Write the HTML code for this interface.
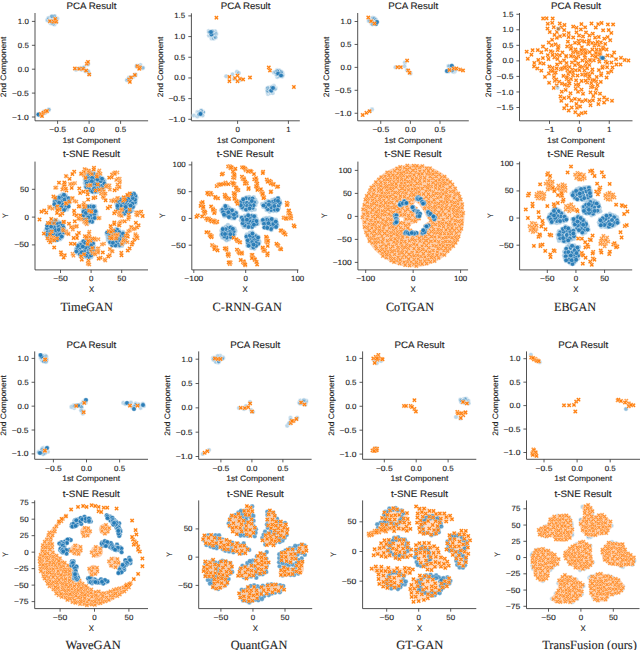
<!DOCTYPE html><html><head><meta charset="utf-8"><style>html,body{margin:0;padding:0;background:#fff}svg{display:block}</style></head><body>
<svg width="640" height="650" viewBox="0 0 640 650">
<defs>
<marker id="o" markerUnits="userSpaceOnUse" markerWidth="8" markerHeight="8" refX="0" refY="0" overflow="visible"><circle r="2.3" fill="#1f77b4" fill-opacity="0.9" stroke="#fff" stroke-opacity="0.75" stroke-width="0.5"/></marker>
<marker id="q" markerUnits="userSpaceOnUse" markerWidth="8" markerHeight="8" refX="0" refY="0" overflow="visible"><circle r="2.3" fill="#1f77b4" fill-opacity="0.7" stroke="#fff" stroke-opacity="0.6" stroke-width="0.5"/></marker>
<marker id="h" markerUnits="userSpaceOnUse" markerWidth="8" markerHeight="8" refX="0" refY="0" overflow="visible"><circle r="2.3" fill="#1f77b4" fill-opacity="0.35" stroke="#fff" stroke-opacity="0.5" stroke-width="0.5"/></marker>
<marker id="p" markerUnits="userSpaceOnUse" markerWidth="8" markerHeight="8" refX="0" refY="0" overflow="visible"><circle r="2.3" fill="#1f77b4" fill-opacity="0.3" stroke="#fff" stroke-width="0.5"/></marker>
<marker id="x" markerUnits="userSpaceOnUse" markerWidth="8" markerHeight="8" refX="0" refY="0" overflow="visible"><path d="M1.13 -2.26L2.26 -1.13L1.13 0L2.26 1.13L1.13 2.26L0 1.13L-1.13 2.26L-2.26 1.13L-1.13 0L-2.26 -1.13L-1.13 -2.26L0 -1.13Z" fill="#ff7f0e" stroke="#fff" stroke-opacity="0.85" stroke-width="0.35"/></marker>
<marker id="y" markerUnits="userSpaceOnUse" markerWidth="8" markerHeight="8" refX="0" refY="0" overflow="visible"><path d="M1.13 -2.26L2.26 -1.13L1.13 0L2.26 1.13L1.13 2.26L0 1.13L-1.13 2.26L-2.26 1.13L-1.13 0L-2.26 -1.13L-1.13 -2.26L0 -1.13Z" fill="#ff7f0e" fill-opacity="0.75" stroke="#fff" stroke-opacity="0.8" stroke-width="0.4"/></marker>
</defs><style>polyline{fill:none;stroke:none}.mo{marker:url(#o)}.mp{marker:url(#p)}.mh{marker:url(#h)}.mq{marker:url(#q)}.mx{marker:url(#x)}.my{marker:url(#y)}</style><defs>
<clipPath id="c0"><rect x="0" y="0" width="160" height="650"/></clipPath>
<clipPath id="c1"><rect x="152" y="0" width="168" height="650"/></clipPath>
<clipPath id="c2"><rect x="320" y="0" width="160" height="650"/></clipPath>
<clipPath id="c3"><rect x="480" y="0" width="160" height="650"/></clipPath>
<filter id="bl" x="-2%" y="-2%" width="104%" height="104%"><feGaussianBlur stdDeviation="0.35"/></filter>
</defs>
<rect width="640" height="650" fill="#fff"/>
<style>text{stroke:#1e1e1e;stroke-width:0.12px;text-rendering:geometricPrecision}</style>
<g clip-path="url(#c0)">
<path d="M35.0 13.0V120.8H148.1" fill="none" stroke="#333333" stroke-width="0.85"/>
<path d="M57.60 120.8v3.1M89.10 120.8v3.1M120.60 120.8v3.1M35.0 117.00h-3.1M35.0 93.10h-3.1M35.0 69.20h-3.1M35.0 45.30h-3.1M35.0 21.40h-3.1" stroke="#333333" stroke-width="0.8"/>
<text x="57.6" y="132.0" font-size="7.59" text-anchor="middle" font-family="Liberation Sans" fill="#1e1e1e" textLength="16.8" lengthAdjust="spacingAndGlyphs">−0.5</text>
<text x="89.1" y="132.0" font-size="7.59" text-anchor="middle" font-family="Liberation Sans" fill="#1e1e1e" textLength="11.0" lengthAdjust="spacingAndGlyphs">0.0</text>
<text x="120.6" y="132.0" font-size="7.59" text-anchor="middle" font-family="Liberation Sans" fill="#1e1e1e" textLength="11.0" lengthAdjust="spacingAndGlyphs">0.5</text>
<text x="28.8" y="119.5" font-size="7.59" text-anchor="end" font-family="Liberation Sans" fill="#1e1e1e" textLength="16.8" lengthAdjust="spacingAndGlyphs">−1.0</text>
<text x="28.8" y="95.6" font-size="7.59" text-anchor="end" font-family="Liberation Sans" fill="#1e1e1e" textLength="16.8" lengthAdjust="spacingAndGlyphs">−0.5</text>
<text x="28.8" y="71.7" font-size="7.59" text-anchor="end" font-family="Liberation Sans" fill="#1e1e1e" textLength="11.0" lengthAdjust="spacingAndGlyphs">0.0</text>
<text x="28.8" y="47.8" font-size="7.59" text-anchor="end" font-family="Liberation Sans" fill="#1e1e1e" textLength="11.0" lengthAdjust="spacingAndGlyphs">0.5</text>
<text x="28.8" y="23.9" font-size="7.59" text-anchor="end" font-family="Liberation Sans" fill="#1e1e1e" textLength="11.0" lengthAdjust="spacingAndGlyphs">1.0</text>
<text x="91.5" y="8.5" font-size="9.33" text-anchor="middle" font-family="Liberation Sans" fill="#1e1e1e" textLength="49.8" lengthAdjust="spacingAndGlyphs">PCA Result</text>
<text x="91.5" y="142.6" font-size="7.85" text-anchor="middle" font-family="Liberation Sans" fill="#1e1e1e" textLength="57.9" lengthAdjust="spacingAndGlyphs">1st Component</text>
<text transform="translate(6.2 66.9) rotate(-90)" font-size="7.85" text-anchor="middle" font-family="Liberation Sans" fill="#1e1e1e" textLength="60.6" lengthAdjust="spacingAndGlyphs">2nd Component</text>
<g filter="url(#bl)">
<polyline class="mp" points="50.9,17.4 54.8,16.7 53.4,19.3 47.7,20.6 47.4,19.9 52.1,23.4 48.5,18.0 54.5,24.5 53.9,19.6 57.3,18.6 50.7,23.3 49.2,21.2 54.7,19.4 53.6,16.6 55.2,19.8 50.8,21.3 52.4,18.7 56.5,22.3 49.9,21.2 53.3,23.9 55.8,18.6 52.0,22.8 51.5,16.5 54.5,16.0 52.0,16.2"/>
<polyline class="mx" points="50.0,21.2 53.8,21.7 56.2,21.7 55.2,18.9"/>
<polyline class="mp" points="76.0,69.8 80.4,68.0 81.5,69.8 79.0,68.7 82.6,68.4 87.8,64.5 88.1,64.1 84.2,67.1 83.6,68.0 86.7,71.0 85.5,71.3 89.2,73.9 88.3,71.2"/>
<polyline class="mx" points="74.9,68.5 79.2,68.8 83.0,68.8 86.8,63.8 88.0,61.9 86.1,70.6 89.2,74.4"/>
<polyline class="mp" points="142.4,68.2 140.4,65.0 137.4,66.8 136.6,66.5 138.9,66.4 136.8,65.7 140.0,66.9 143.0,67.7"/>
<polyline class="mx" points="137.4,66.2 139.9,67.5 139.2,68.8"/>
<polyline class="mp" points="135.7,74.7 130.0,78.4 133.3,76.8 128.7,79.9 127.1,80.2 127.0,80.0 135.2,74.9 128.3,79.7 129.0,77.5 130.7,77.7"/>
<polyline class="mx" points="129.2,79.4 131.1,77.5 134.9,75.0 129.9,81.9"/>
<polyline class="mp" points="39.0,115.2 46.5,111.9 47.0,111.1 44.9,113.0 48.8,109.9 40.6,114.4 44.1,111.6 41.9,115.5 48.9,109.6 46.2,111.0"/>
<polyline class="mo" points="38.5,114.5 38.5,114.5"/>
<polyline class="mx" points="41.0,114.0 43.4,112.7 45.5,111.5 42.0,116.0 47.0,111.0"/>
</g>
</g>
<g clip-path="url(#c1)">
<path d="M191.4 13.3V120.8H299.8" fill="none" stroke="#333333" stroke-width="0.85"/>
<path d="M237.60 120.8v3.1M288.40 120.8v3.1M191.4 119.30h-3.1M191.4 98.62h-3.1M191.4 77.94h-3.1M191.4 57.26h-3.1M191.4 36.58h-3.1M191.4 15.90h-3.1" stroke="#333333" stroke-width="0.8"/>
<text x="237.6" y="132.0" font-size="7.59" text-anchor="middle" font-family="Liberation Sans" fill="#1e1e1e" textLength="4.4" lengthAdjust="spacingAndGlyphs">0</text>
<text x="288.4" y="132.0" font-size="7.59" text-anchor="middle" font-family="Liberation Sans" fill="#1e1e1e" textLength="4.4" lengthAdjust="spacingAndGlyphs">1</text>
<text x="185.2" y="121.8" font-size="7.59" text-anchor="end" font-family="Liberation Sans" fill="#1e1e1e" textLength="16.8" lengthAdjust="spacingAndGlyphs">−1.0</text>
<text x="185.2" y="101.1" font-size="7.59" text-anchor="end" font-family="Liberation Sans" fill="#1e1e1e" textLength="16.8" lengthAdjust="spacingAndGlyphs">−0.5</text>
<text x="185.2" y="80.4" font-size="7.59" text-anchor="end" font-family="Liberation Sans" fill="#1e1e1e" textLength="11.0" lengthAdjust="spacingAndGlyphs">0.0</text>
<text x="185.2" y="59.8" font-size="7.59" text-anchor="end" font-family="Liberation Sans" fill="#1e1e1e" textLength="11.0" lengthAdjust="spacingAndGlyphs">0.5</text>
<text x="185.2" y="39.1" font-size="7.59" text-anchor="end" font-family="Liberation Sans" fill="#1e1e1e" textLength="11.0" lengthAdjust="spacingAndGlyphs">1.0</text>
<text x="185.2" y="18.4" font-size="7.59" text-anchor="end" font-family="Liberation Sans" fill="#1e1e1e" textLength="11.0" lengthAdjust="spacingAndGlyphs">1.5</text>
<text x="245.6" y="8.5" font-size="9.33" text-anchor="middle" font-family="Liberation Sans" fill="#1e1e1e" textLength="49.8" lengthAdjust="spacingAndGlyphs">PCA Result</text>
<text x="245.6" y="142.6" font-size="7.85" text-anchor="middle" font-family="Liberation Sans" fill="#1e1e1e" textLength="57.9" lengthAdjust="spacingAndGlyphs">1st Component</text>
<text transform="translate(162.6 67.0) rotate(-90)" font-size="7.85" text-anchor="middle" font-family="Liberation Sans" fill="#1e1e1e" textLength="60.6" lengthAdjust="spacingAndGlyphs">2nd Component</text>
<g filter="url(#bl)">
<polyline class="mp" points="212.2,33.2 209.8,32.3 213.9,38.6 211.5,38.4 210.6,32.0 209.3,31.8 209.0,35.6 211.8,35.9 213.6,38.2 214.8,36.8 211.8,31.6 214.9,33.0 211.0,33.6 208.7,31.1 215.1,31.3 213.6,33.2 212.5,31.2 213.5,34.7 216.3,33.9 215.7,37.4 209.1,32.3 209.9,32.2"/>
<polyline class="mo" points="211.4,34.5 211.0,32.0"/>
<polyline class="mp" points="199.4,112.2 197.4,112.1 202.9,111.6 198.7,114.7 203.0,112.0 203.3,112.4 199.4,114.0 193.9,115.5 201.4,110.9 199.2,115.5 199.2,112.7 199.3,114.3 201.1,110.6 199.1,112.3 197.3,116.5 199.2,114.3 202.6,115.5 198.7,114.9 199.1,114.1 200.9,113.0"/>
<polyline class="mo" points="200.5,113.9 200.5,113.9"/>
<polyline class="mx" points="216.4,17.7 293.9,87.0"/>
<polyline class="mp" points="226.2,76.2 232.5,74.4 236.9,71.9 238.8,73.1 234.0,79.0 240.0,80.0"/>
<polyline class="mx" points="229.4,76.9 229.4,81.2 235.0,78.1 237.5,75.6 237.5,81.2 240.0,78.8 243.1,79.4 250.0,77.5 268.8,67.5 270.0,70.6"/>
<polyline class="mp" points="278.9,73.8 282.2,76.6 276.1,73.4 279.0,70.8 277.1,70.1 279.4,76.2 280.1,75.6 283.0,74.7 277.2,77.0 282.4,72.7 277.8,73.7 277.7,71.2 276.3,74.6 273.9,72.5 279.1,70.4 276.6,74.0 279.7,71.0 281.7,73.2 275.2,72.0 277.1,70.7 282.3,75.7 281.4,71.8"/>
<polyline class="mo" points="278.1,73.5 281.0,75.5"/>
<polyline class="mp" points="267.9,94.0 268.4,87.7 275.6,88.1 274.1,87.4 269.8,91.4 273.8,85.8 267.8,92.5 266.9,89.1 267.5,90.6 270.4,92.9 269.1,91.3 267.4,91.0 270.0,87.6 272.8,93.0 270.4,90.4 273.5,87.2 271.9,91.2 274.9,89.3 271.8,88.5 267.6,88.0 272.0,86.9 271.5,87.5"/>
<polyline class="mo" points="271.2,90.6 273.0,88.0"/>
</g>
</g>
<g clip-path="url(#c2)">
<path d="M357.7 13.0V120.8H468.8" fill="none" stroke="#333333" stroke-width="0.85"/>
<path d="M380.75 120.8v3.1M410.38 120.8v3.1M440.00 120.8v3.1M357.7 113.25h-3.1M357.7 90.31h-3.1M357.7 67.38h-3.1M357.7 44.44h-3.1M357.7 21.50h-3.1" stroke="#333333" stroke-width="0.8"/>
<text x="380.8" y="132.0" font-size="7.59" text-anchor="middle" font-family="Liberation Sans" fill="#1e1e1e" textLength="16.8" lengthAdjust="spacingAndGlyphs">−0.5</text>
<text x="410.4" y="132.0" font-size="7.59" text-anchor="middle" font-family="Liberation Sans" fill="#1e1e1e" textLength="11.0" lengthAdjust="spacingAndGlyphs">0.0</text>
<text x="440.0" y="132.0" font-size="7.59" text-anchor="middle" font-family="Liberation Sans" fill="#1e1e1e" textLength="11.0" lengthAdjust="spacingAndGlyphs">0.5</text>
<text x="351.5" y="115.8" font-size="7.59" text-anchor="end" font-family="Liberation Sans" fill="#1e1e1e" textLength="16.8" lengthAdjust="spacingAndGlyphs">−1.0</text>
<text x="351.5" y="92.8" font-size="7.59" text-anchor="end" font-family="Liberation Sans" fill="#1e1e1e" textLength="16.8" lengthAdjust="spacingAndGlyphs">−0.5</text>
<text x="351.5" y="69.9" font-size="7.59" text-anchor="end" font-family="Liberation Sans" fill="#1e1e1e" textLength="11.0" lengthAdjust="spacingAndGlyphs">0.0</text>
<text x="351.5" y="46.9" font-size="7.59" text-anchor="end" font-family="Liberation Sans" fill="#1e1e1e" textLength="11.0" lengthAdjust="spacingAndGlyphs">0.5</text>
<text x="351.5" y="24.0" font-size="7.59" text-anchor="end" font-family="Liberation Sans" fill="#1e1e1e" textLength="11.0" lengthAdjust="spacingAndGlyphs">1.0</text>
<text x="413.2" y="8.5" font-size="9.33" text-anchor="middle" font-family="Liberation Sans" fill="#1e1e1e" textLength="49.8" lengthAdjust="spacingAndGlyphs">PCA Result</text>
<text x="413.2" y="142.6" font-size="7.85" text-anchor="middle" font-family="Liberation Sans" fill="#1e1e1e" textLength="57.9" lengthAdjust="spacingAndGlyphs">1st Component</text>
<text transform="translate(328.9 66.9) rotate(-90)" font-size="7.85" text-anchor="middle" font-family="Liberation Sans" fill="#1e1e1e" textLength="60.6" lengthAdjust="spacingAndGlyphs">2nd Component</text>
<g filter="url(#bl)">
<polyline class="mp" points="371.6,18.9 374.0,19.4 373.3,20.0 374.2,20.5 371.7,20.9 374.1,20.0 375.1,18.8 372.8,17.8 374.1,18.3 370.0,20.6 371.4,23.5 372.6,24.1 376.0,23.6 368.7,20.9 375.9,19.9 372.3,24.1 376.7,21.6 372.7,22.0"/>
<polyline class="mo" points="376.0,24.0 377.0,22.0"/>
<polyline class="mx" points="368.3,17.5 371.1,21.2 374.5,23.5"/>
<polyline class="mp" points="395.5,67.2 404.9,62.5 404.5,66.2 410.5,73.4 399.0,67.0 407.0,70.0"/>
<polyline class="mx" points="397.4,67.2 400.8,67.2 407.1,60.6 408.2,70.4 409.6,72.8"/>
<polyline class="mp" points="454.3,71.9 454.3,70.2 454.9,71.0 452.9,67.3 449.6,66.3 454.4,70.0 452.3,70.5 452.8,69.4 453.5,69.5 451.4,70.8 446.7,71.4 448.5,66.1 448.7,71.3 448.1,71.4 455.8,69.5 449.8,69.3 452.8,71.6 452.2,70.6"/>
<polyline class="mo" points="451.8,65.7 447.0,71.0"/>
<polyline class="mx" points="449.5,70.0 453.6,68.5 456.4,68.5 460.2,69.6 463.0,70.4"/>
<polyline class="mp" points="372.0,109.4 370.0,111.0"/>
<polyline class="mx" points="362.7,115.0 366.4,112.8 369.6,111.2"/>
</g>
</g>
<g clip-path="url(#c3)">
<path d="M519.5 13.0V120.8H632.5" fill="none" stroke="#333333" stroke-width="0.85"/>
<path d="M549.50 120.8v3.1M579.38 120.8v3.1M609.25 120.8v3.1M519.5 107.50h-3.1M519.5 91.96h-3.1M519.5 76.42h-3.1M519.5 60.88h-3.1M519.5 45.33h-3.1M519.5 29.79h-3.1M519.5 14.25h-3.1" stroke="#333333" stroke-width="0.8"/>
<text x="549.5" y="132.0" font-size="7.59" text-anchor="middle" font-family="Liberation Sans" fill="#1e1e1e" textLength="10.2" lengthAdjust="spacingAndGlyphs">−1</text>
<text x="579.4" y="132.0" font-size="7.59" text-anchor="middle" font-family="Liberation Sans" fill="#1e1e1e" textLength="4.4" lengthAdjust="spacingAndGlyphs">0</text>
<text x="609.2" y="132.0" font-size="7.59" text-anchor="middle" font-family="Liberation Sans" fill="#1e1e1e" textLength="4.4" lengthAdjust="spacingAndGlyphs">1</text>
<text x="513.4" y="110.0" font-size="7.59" text-anchor="end" font-family="Liberation Sans" fill="#1e1e1e" textLength="16.8" lengthAdjust="spacingAndGlyphs">−1.5</text>
<text x="513.4" y="94.5" font-size="7.59" text-anchor="end" font-family="Liberation Sans" fill="#1e1e1e" textLength="16.8" lengthAdjust="spacingAndGlyphs">−1.0</text>
<text x="513.4" y="78.9" font-size="7.59" text-anchor="end" font-family="Liberation Sans" fill="#1e1e1e" textLength="16.8" lengthAdjust="spacingAndGlyphs">−0.5</text>
<text x="513.4" y="63.4" font-size="7.59" text-anchor="end" font-family="Liberation Sans" fill="#1e1e1e" textLength="11.0" lengthAdjust="spacingAndGlyphs">0.0</text>
<text x="513.4" y="47.8" font-size="7.59" text-anchor="end" font-family="Liberation Sans" fill="#1e1e1e" textLength="11.0" lengthAdjust="spacingAndGlyphs">0.5</text>
<text x="513.4" y="32.3" font-size="7.59" text-anchor="end" font-family="Liberation Sans" fill="#1e1e1e" textLength="11.0" lengthAdjust="spacingAndGlyphs">1.0</text>
<text x="513.4" y="16.8" font-size="7.59" text-anchor="end" font-family="Liberation Sans" fill="#1e1e1e" textLength="11.0" lengthAdjust="spacingAndGlyphs">1.5</text>
<text x="576.0" y="8.5" font-size="9.33" text-anchor="middle" font-family="Liberation Sans" fill="#1e1e1e" textLength="49.8" lengthAdjust="spacingAndGlyphs">PCA Result</text>
<text x="576.0" y="142.6" font-size="7.85" text-anchor="middle" font-family="Liberation Sans" fill="#1e1e1e" textLength="57.9" lengthAdjust="spacingAndGlyphs">1st Component</text>
<text transform="translate(490.7 66.9) rotate(-90)" font-size="7.85" text-anchor="middle" font-family="Liberation Sans" fill="#1e1e1e" textLength="60.6" lengthAdjust="spacingAndGlyphs">2nd Component</text>
<g filter="url(#bl)">
<polyline class="mx" points="554.1,73.3 597.5,85.0 552.6,67.8 572.0,62.4 571.4,100.5 628.4,60.5 585.1,27.3 578.7,114.9 577.0,107.8 598.8,37.0 620.5,64.5 575.1,60.7 553.8,27.2 558.5,46.1 604.1,102.6 552.5,52.2 586.0,51.0 567.9,41.7 541.3,52.3 581.5,89.7 570.5,93.3 592.2,42.9 534.3,63.0 549.1,82.8 564.2,30.1 548.9,73.5 566.2,56.7 578.7,52.7 534.1,66.4 590.5,105.2 547.8,55.2 573.0,75.4 547.8,23.8 537.3,68.4 600.8,81.9 605.7,61.4 607.6,37.1 598.2,24.1 545.0,76.9 573.2,37.4 598.9,45.2 595.5,57.4 567.1,85.7 602.8,66.5 605.2,43.9 564.1,35.0 556.9,32.0 562.4,52.4 612.0,100.8 573.0,52.3 589.1,40.3 575.3,112.2 606.6,77.6 560.5,96.5 604.3,38.7 581.9,47.2 575.8,88.7 566.7,79.0 595.5,92.8 561.8,91.7 547.5,28.6 556.5,54.8 585.3,112.5 589.4,35.5 561.3,27.3 587.1,82.4 556.7,85.3 531.4,54.7 581.6,81.0 551.7,45.2 566.6,105.3 621.0,57.8 611.9,55.9 589.7,52.1 576.5,27.8 574.9,98.9 589.5,101.1 564.8,67.9 583.0,93.8 554.3,57.4 585.3,58.0 593.8,60.3 589.3,64.9 540.1,63.1 569.5,67.1 607.1,67.2 611.3,32.9 549.4,66.6 607.9,24.4 582.2,74.6 564.2,98.1 594.3,45.8 559.8,23.5 560.0,36.2 585.4,75.6 573.2,26.6 607.6,55.4 592.2,72.7 559.2,81.7 546.6,18.3 568.8,97.2 578.6,40.7 556.8,37.8 616.0,59.2 601.2,73.6 554.5,34.9 591.0,87.3 552.2,22.8 543.0,46.5 548.8,42.5 600.2,51.7 576.4,103.9 606.6,49.5 598.9,70.1 575.0,65.1 575.4,49.5 559.8,55.3 564.2,108.2 592.4,49.6 603.1,30.3 571.7,107.6 553.8,87.9 556.6,68.4 601.6,23.0 568.7,33.2 591.5,23.5 576.1,80.3 568.2,74.0 603.9,57.5 598.4,104.1 596.1,81.3 570.8,45.8 571.0,79.1 593.3,96.0 580.9,29.4 584.4,70.4 578.4,56.3 579.0,35.6 607.0,99.4 583.0,36.4 611.4,62.6 600.8,42.4 591.4,83.2 608.7,30.1 575.8,70.3 614.1,52.5 582.1,101.3 555.5,44.3 588.5,78.6 561.3,100.8 608.1,72.7 567.2,46.4 563.4,75.9 573.3,56.5 599.4,61.7 592.9,100.3 616.4,64.5 526.7,51.7 595.8,27.6 592.2,80.0 552.7,18.5 596.7,77.0 585.7,100.1 604.1,97.5 578.4,63.5 586.0,32.4 564.5,25.0 564.0,60.4 590.4,60.9 543.6,63.6 552.1,39.8 568.7,110.5 599.3,99.7 565.7,89.9 549.8,32.1 579.4,70.0 557.5,59.0 560.8,69.3 527.8,58.8 550.6,70.6 572.2,69.7 588.3,73.6 592.8,33.7 575.0,42.8 557.7,50.1 578.0,91.8 585.6,65.8 582.2,53.5 542.9,58.1 577.9,86.0 612.5,67.4 576.5,32.3 582.0,40.7 592.4,69.4 554.0,77.1 558.2,28.8 537.8,50.1 554.8,80.9 548.5,59.0 596.6,49.7 610.2,40.2 595.1,37.7 611.3,71.2 613.1,24.4 543.1,18.5 541.3,70.7 603.1,47.3 538.3,59.9 588.2,44.1 581.4,24.1 577.5,75.6 600.0,93.7 597.0,53.1 560.4,62.5 546.3,49.7 581.7,113.2 580.1,106.5 567.4,70.2 592.3,55.4 568.6,37.0 557.1,64.4 532.6,50.2 600.4,55.1 590.5,92.3 579.1,99.8 586.4,62.0 566.5,63.1 596.3,88.8 582.2,67.2 624.7,60.0 568.6,81.0 575.8,84.8 595.6,43.8 555.7,72.5 568.1,85.3 578.9,43.4 584.7,50.1 562.0,83.6 580.0,66.7 564.0,68.0 566.1,56.0 600.4,49.7 599.6,54.3 566.9,77.3 571.2,48.2 569.5,83.4 577.6,52.7 589.9,60.0 594.1,80.2 562.1,68.4 575.8,51.3 582.4,60.4 585.8,74.3 552.6,70.8 595.8,53.1 597.4,42.0 572.7,72.3 550.8,51.2 583.4,50.2 595.9,56.6 603.2,48.9 578.4,84.3 566.3,66.2 584.7,55.6 584.3,41.6 588.6,41.7 569.9,71.9 558.1,47.8 576.5,57.8 601.1,75.2 564.8,67.3 570.9,48.9 602.4,67.8 607.1,62.9 585.6,52.9 556.2,79.5 585.6,80.7 599.2,59.5 564.8,84.7 592.7,86.7 589.4,76.2 552.6,54.9 581.2,50.1 587.1,68.2 571.0,56.0"/>
<polyline class="mo" points="601.6,57.8 602.8,58.0"/>
<polyline class="mp" points="558.4,28.8 557.5,87.8"/>
</g>
</g>
<g clip-path="url(#c0)">
<path d="M35.0 161.6V269.9H148.0" fill="none" stroke="#333333" stroke-width="0.85"/>
<path d="M60.50 269.9v3.1M91.10 269.9v3.1M121.70 269.9v3.1M35.0 244.90h-3.1M35.0 217.10h-3.1M35.0 189.30h-3.1" stroke="#333333" stroke-width="0.8"/>
<text x="60.5" y="281.1" font-size="7.59" text-anchor="middle" font-family="Liberation Sans" fill="#1e1e1e" textLength="14.6" lengthAdjust="spacingAndGlyphs">−50</text>
<text x="91.1" y="281.1" font-size="7.59" text-anchor="middle" font-family="Liberation Sans" fill="#1e1e1e" textLength="4.4" lengthAdjust="spacingAndGlyphs">0</text>
<text x="121.7" y="281.1" font-size="7.59" text-anchor="middle" font-family="Liberation Sans" fill="#1e1e1e" textLength="8.8" lengthAdjust="spacingAndGlyphs">50</text>
<text x="28.8" y="247.4" font-size="7.59" text-anchor="end" font-family="Liberation Sans" fill="#1e1e1e" textLength="14.6" lengthAdjust="spacingAndGlyphs">−50</text>
<text x="28.8" y="219.6" font-size="7.59" text-anchor="end" font-family="Liberation Sans" fill="#1e1e1e" textLength="4.4" lengthAdjust="spacingAndGlyphs">0</text>
<text x="28.8" y="191.8" font-size="7.59" text-anchor="end" font-family="Liberation Sans" fill="#1e1e1e" textLength="8.8" lengthAdjust="spacingAndGlyphs">50</text>
<text x="91.5" y="157.4" font-size="9.33" text-anchor="middle" font-family="Liberation Sans" fill="#1e1e1e" textLength="56.9" lengthAdjust="spacingAndGlyphs">t-SNE Result</text>
<text x="91.5" y="291.6" font-size="7.85" text-anchor="middle" font-family="Liberation Sans" fill="#1e1e1e" textLength="5.2" lengthAdjust="spacingAndGlyphs">X</text>
<text transform="translate(8.4 215.8) rotate(-90)" font-size="7.85" text-anchor="middle" font-family="Liberation Sans" fill="#1e1e1e" textLength="4.6" lengthAdjust="spacingAndGlyphs">Y</text>
<g filter="url(#bl)">
<polyline class="mh" points="104.5,180.4 102.3,189.8 100.2,176.9 90.5,191.4 85.4,186.6 96.7,174.6 94.0,192.4 87.2,189.0 94.3,173.4 91.3,172.9 84.8,182.9 87.2,174.4 84.8,179.7 97.6,191.9 105.1,184.7 103.9,187.5 85.7,176.9 102.7,178.6 100.1,191.2 88.6,172.4"/>
<polyline class="mo" points="103.2,181.3 93.3,186.3 98.8,177.1 99.7,185.9 86.3,186.9 89.9,179.4 94.6,176.3 86.3,181.0 90.7,184.7 96.0,186.9 89.5,176.2 94.7,179.6 102.4,185.6 90.1,190.0 101.4,190.1 97.9,181.9 92.4,191.6 93.2,173.7 100.6,181.3 86.8,177.3 95.6,191.5 97.8,189.3 88.9,182.4 90.8,172.8 102.9,188.1 92.2,177.7 93.8,183.2 86.7,183.6 102.0,178.7 88.9,187.1 94.0,188.9 97.5,179.3 96.9,175.1 91.8,181.2 96.4,184.3 104.4,183.6 88.4,173.8"/>
<polyline class="mh" points="69.2,203.3 54.3,203.7 56.9,198.1 54.6,200.4 68.7,206.3 69.3,198.7 56.8,208.1 67.1,209.4 62.4,194.4 63.6,210.6 65.9,195.4 60.1,195.8 60.2,209.6 54.8,206.2"/>
<polyline class="mo" points="54.9,201.4 56.9,205.1 60.4,200.0 62.3,196.8 61.8,202.3 66.3,201.8 65.6,208.1 59.5,205.3 62.7,204.9 58.8,208.5 57.5,200.9 66.1,205.4 68.0,203.7 61.2,207.4 64.1,210.1 65.5,196.8 64.4,199.6 68.6,198.2 58.9,197.6 55.7,198.9 69.1,201.1 54.4,204.2 68.6,206.5 64.0,194.7 56.5,207.6 59.2,202.7"/>
<polyline class="mh" points="96.5,215.5 96.4,211.9 82.8,216.4 94.9,206.4 91.5,205.6 83.1,212.7 92.6,222.1 84.6,220.1 95.1,209.6 85.2,207.6 88.6,222.8 94.7,218.5 88.2,206.0 82.7,209.5 86.0,222.6"/>
<polyline class="mo" points="92.3,218.6 86.1,220.6 88.1,212.0 90.6,215.1 86.8,215.3 92.0,221.8 89.7,208.9 91.3,211.6 89.3,221.1 84.2,218.8 94.3,214.2 87.1,209.2 93.0,209.0 90.6,206.5 83.1,215.6 88.3,217.5 84.3,209.1 95.4,211.2 83.5,211.7 87.6,206.6 93.7,206.5 94.8,217.9 85.8,212.9"/>
<polyline class="mh" points="135.5,203.4 116.3,203.6 121.5,198.8 128.4,195.6 128.8,212.3 117.3,206.5 133.4,193.3 131.0,194.8 132.4,210.5 119.0,210.0 124.1,198.3 124.9,214.2 117.2,200.6 121.7,211.6 136.5,197.7 133.7,206.2 135.9,200.8 135.5,195.4"/>
<polyline class="mo" points="130.2,197.1 120.4,202.3 120.8,208.2 135.4,196.1 130.7,208.4 128.3,204.6 132.9,206.9 132.6,200.9 127.2,209.0 123.6,205.6 130.0,200.7 134.9,202.1 123.9,209.6 125.1,203.3 123.6,199.6 134.0,193.9 124.4,213.6 120.5,205.5 135.0,199.6 118.0,203.4 126.9,211.7 130.3,211.4 125.6,197.5 132.3,203.7 125.7,206.9 128.1,198.5 122.1,211.7 132.7,198.0 126.5,200.8 117.8,208.4 130.6,205.7 117.9,200.9 131.5,194.8 120.8,199.8 122.9,202.0 117.4,205.9"/>
<polyline class="mh" points="45.7,230.2 63.1,234.5 50.8,222.4 60.3,239.3 47.0,225.6 46.3,234.8 64.7,230.0 58.0,221.5 55.1,240.2 54.4,220.4 52.4,240.6 62.9,226.0 60.8,222.7 50.4,239.0 62.1,237.2 48.6,236.9 48.2,223.3 57.8,239.8"/>
<polyline class="mo" points="50.3,224.2 49.8,228.9 54.5,225.0 47.9,231.8 61.1,232.1 55.3,237.8 53.2,239.9 60.0,223.5 54.2,233.9 57.4,232.0 58.3,226.5 52.7,230.0 59.7,238.1 46.9,228.1 54.5,228.0 57.3,235.3 53.1,222.5 60.0,234.6 60.9,228.4 62.6,224.9 49.6,236.7 56.8,223.1 64.0,232.5 50.5,231.5 63.3,229.9 47.2,225.5 52.0,237.4 61.8,236.5 51.2,226.5 56.9,239.9 46.9,234.8 49.4,233.9 55.8,230.2 58.7,229.8 63.5,227.4 55.3,220.7 51.8,234.8"/>
<polyline class="mh" points="91.4,240.3 84.8,256.7 94.3,250.0 77.2,245.5 87.2,257.5 93.8,245.8 76.0,249.0 86.2,238.7 82.4,241.7 91.2,257.2 80.2,255.9 80.0,243.2 77.7,253.4 93.3,242.4 93.1,252.2 75.9,251.6 88.9,239.3 92.2,254.7"/>
<polyline class="mo" points="92.1,240.9 91.6,252.1 87.7,249.2 79.4,251.5 84.3,250.9 88.0,253.3 86.3,240.0 87.6,243.7 83.0,254.4 88.6,246.7 77.5,248.6 80.6,247.8 82.9,244.0 79.9,254.1 88.9,256.9 85.3,247.6 93.0,247.7 76.3,251.5 80.5,244.9 93.0,243.5 91.0,255.5 86.0,255.6 90.5,249.4 83.4,241.2 89.5,241.8 93.7,250.6 91.0,245.4 77.8,245.9 85.2,242.9 82.8,246.6 81.8,252.2"/>
<polyline class="mh" points="123.0,232.1 107.9,239.9 124.8,236.8 106.6,233.9 112.5,245.3 119.0,230.3 125.2,239.4 109.9,231.3 110.1,243.4 116.3,245.9 119.3,246.2 113.2,230.0 123.9,242.7 116.2,228.9 107.6,236.9 122.0,245.7"/>
<polyline class="mo" points="112.6,240.1 119.7,245.1 124.4,239.3 117.3,229.9 117.1,243.2 120.3,237.5 113.0,235.2 112.2,245.2 109.5,233.2 109.6,238.5 116.2,240.8 119.9,240.2 120.4,234.8 114.8,237.5 119.2,232.2 114.9,231.4 124.0,235.9 109.5,235.8 124.0,242.1 110.1,242.2 107.1,232.5 115.4,245.5 117.3,234.5 121.8,243.2 110.9,231.1 112.9,242.8 123.0,233.5 117.5,238.6 112.0,237.6"/>
<polyline class="mx" points="136.8,236.1 137.5,238.0 135.9,222.8 138.6,225.3 101.2,193.6 65.6,203.5 53.4,196.4 141.1,211.7 139.3,213.6 88.6,260.8 128.4,195.3 110.0,249.1 47.4,238.3 48.9,240.3 125.7,235.9 127.8,236.7 69.6,178.8 51.8,237.6 53.4,237.6 127.2,233.6 85.5,206.0 84.2,207.0 47.9,223.0 49.8,223.0 57.0,238.4 114.3,222.4 114.2,224.1 64.8,255.2 63.6,257.6 84.7,169.2 83.6,173.3 121.3,252.8 121.5,255.3 71.7,187.9 74.3,214.0 100.6,257.7 98.7,258.7 90.5,240.7 95.3,197.3 93.5,198.0 78.9,232.9 113.7,238.5 110.8,238.0 118.8,224.3 63.5,185.8 62.4,189.4 60.9,252.3 61.3,254.6 97.7,184.5 66.2,203.2 94.0,167.8 93.7,169.6 99.6,189.8 46.2,212.5 69.0,223.7 71.1,227.1 80.1,193.0 51.8,238.8 121.8,209.3 120.0,212.3 62.3,213.6 60.3,215.0 110.6,226.1 111.0,228.9 89.1,210.7 91.3,211.8 77.0,235.1 76.9,238.0 74.2,171.7 72.4,174.1 95.5,190.5 102.8,252.4 131.8,244.6 129.6,248.4 127.8,250.6 39.5,219.5 69.7,201.7 134.3,239.6 132.7,242.7 137.0,227.3 74.8,221.3 74.6,243.9 70.9,243.7 89.5,236.8 86.5,238.0 128.7,214.6 129.2,217.1 123.2,200.7 108.8,231.2 76.3,226.4 129.7,209.8 57.0,213.0 129.8,193.4 127.3,195.0 87.0,191.3 87.7,194.3 124.7,221.3 55.1,197.8 97.6,174.8 96.9,176.5 54.2,247.4 51.8,231.6 50.2,234.3 123.7,197.3 124.8,199.4 44.2,210.4 41.4,211.7 88.1,199.5 64.2,222.0 64.8,184.0 64.4,186.2 112.1,236.1 110.1,237.3 142.7,216.0 79.7,206.1 78.8,206.5 79.3,188.4 66.4,190.5 51.7,239.3 54.2,240.3 86.1,169.9 88.6,171.0 111.6,238.3 138.0,212.4 76.5,215.3 80.2,215.4 117.7,234.3 115.3,235.0 92.3,248.1 113.0,230.6 111.1,231.9 64.3,182.4 81.8,259.7 50.3,242.2 74.1,210.8 73.6,238.0 83.4,191.7 109.8,255.1 108.2,256.5 57.4,206.4 58.3,209.2 51.2,219.0 112.1,174.6 111.7,177.3 63.5,221.9 110.0,206.6 107.8,208.1 116.9,188.8 114.6,190.2 115.8,211.5 114.2,213.2 59.0,182.7 59.6,209.2 57.4,210.1 109.2,177.7 104.0,197.8 105.6,200.3 84.1,254.3 81.1,256.3 88.2,241.0 87.5,243.9 43.9,233.6 84.9,236.2 86.5,236.8 84.1,175.4 85.5,177.9"/>
<polyline class="my" points="118.0,197.9 117.2,198.2 114.4,199.6 102.6,192.8 103.6,195.0 102.8,196.7 84.8,172.3 83.8,172.3 82.2,174.1 81.0,174.0 117.9,186.8 118.9,186.7 119.6,187.1 119.7,178.8 117.9,178.7 116.2,179.9 80.7,219.4 81.8,219.3 79.3,218.8 78.3,218.6 117.0,235.1 116.3,237.1 116.2,238.4 84.1,221.8 85.4,222.8 86.8,224.2 120.9,210.4 119.7,212.3 119.4,213.2 56.4,187.5 55.2,187.8 128.6,217.3 128.2,219.2 66.3,231.3 66.3,233.0 68.0,233.6 68.6,234.1 119.0,214.5 120.1,215.3 121.7,215.9 117.4,172.4 115.3,173.0 113.7,173.2 108.4,185.6 109.5,185.5 108.6,187.0 109.9,189.5 98.5,248.3 97.7,248.7 96.2,251.0 66.5,176.4 65.9,176.0 55.9,219.8 54.1,223.2 111.2,200.7 113.3,200.5 113.5,201.2 116.0,201.0 75.0,183.1 73.3,183.4 72.1,183.9 70.0,184.0 49.2,206.8 49.3,208.1 50.2,207.2 52.6,208.7 87.8,185.4 89.5,185.4 90.5,185.1 115.1,172.3 114.8,174.0 71.9,198.2 72.8,198.1 128.3,231.2 129.9,230.5 111.5,250.9 112.6,251.3 131.0,227.0 131.6,227.2 133.3,229.1 134.8,228.7 123.6,239.0 123.5,241.9 122.4,242.2 122.0,244.1 98.4,239.2 95.8,239.7 94.9,239.4 63.4,188.7 65.3,189.0 65.9,188.6 88.2,262.6 87.8,263.8 89.3,264.5 74.3,200.9 76.3,201.7 62.8,229.1 63.3,230.6 102.8,189.1 104.0,191.2 104.2,193.7 105.5,193.7 135.4,234.1 135.4,235.2 136.6,236.9 83.9,171.9 81.7,173.4 81.2,173.7 72.5,253.8 73.5,255.7 88.9,170.7 89.1,172.3 90.5,173.5 91.9,174.2 97.8,250.4 98.1,251.4 98.0,252.8 89.4,231.7 88.9,233.4 106.7,185.5 106.0,186.7 86.1,219.4 86.7,221.5 99.6,217.9 98.5,218.3 91.1,251.1 92.5,253.2 94.5,253.1 95.2,254.4 76.9,226.1 74.9,226.5 72.9,227.7 72.8,229.5 136.3,212.6 136.3,214.5 137.4,215.3 122.2,221.2 120.5,222.1 104.6,259.3 105.3,260.6 119.9,181.7 119.5,182.7 117.5,184.5 119.7,223.1 119.5,225.3 119.1,225.4 94.5,238.3 92.5,238.5 84.1,202.9 83.4,204.8 123.6,240.3 125.8,240.7 127.6,242.2 99.4,170.5 98.7,172.1 100.5,173.8 104.0,243.7 102.0,244.4"/>
</g>
</g>
<g clip-path="url(#c1)">
<path d="M191.8 161.6V269.9H298.4" fill="none" stroke="#333333" stroke-width="0.85"/>
<path d="M193.80 269.9v3.1M245.70 269.9v3.1M297.60 269.9v3.1M191.8 245.20h-3.1M191.8 218.43h-3.1M191.8 191.67h-3.1M191.8 164.90h-3.1" stroke="#333333" stroke-width="0.8"/>
<text x="193.8" y="281.1" font-size="7.59" text-anchor="middle" font-family="Liberation Sans" fill="#1e1e1e" textLength="19.0" lengthAdjust="spacingAndGlyphs">−100</text>
<text x="245.7" y="281.1" font-size="7.59" text-anchor="middle" font-family="Liberation Sans" fill="#1e1e1e" textLength="4.4" lengthAdjust="spacingAndGlyphs">0</text>
<text x="297.6" y="281.1" font-size="7.59" text-anchor="middle" font-family="Liberation Sans" fill="#1e1e1e" textLength="13.2" lengthAdjust="spacingAndGlyphs">100</text>
<text x="185.7" y="247.7" font-size="7.59" text-anchor="end" font-family="Liberation Sans" fill="#1e1e1e" textLength="14.6" lengthAdjust="spacingAndGlyphs">−50</text>
<text x="185.7" y="220.9" font-size="7.59" text-anchor="end" font-family="Liberation Sans" fill="#1e1e1e" textLength="4.4" lengthAdjust="spacingAndGlyphs">0</text>
<text x="185.7" y="194.2" font-size="7.59" text-anchor="end" font-family="Liberation Sans" fill="#1e1e1e" textLength="8.8" lengthAdjust="spacingAndGlyphs">50</text>
<text x="185.7" y="167.4" font-size="7.59" text-anchor="end" font-family="Liberation Sans" fill="#1e1e1e" textLength="13.2" lengthAdjust="spacingAndGlyphs">100</text>
<text x="245.1" y="157.4" font-size="9.33" text-anchor="middle" font-family="Liberation Sans" fill="#1e1e1e" textLength="56.9" lengthAdjust="spacingAndGlyphs">t-SNE Result</text>
<text x="245.1" y="291.6" font-size="7.85" text-anchor="middle" font-family="Liberation Sans" fill="#1e1e1e" textLength="5.2" lengthAdjust="spacingAndGlyphs">X</text>
<text transform="translate(165.2 215.8) rotate(-90)" font-size="7.85" text-anchor="middle" font-family="Liberation Sans" fill="#1e1e1e" textLength="4.6" lengthAdjust="spacingAndGlyphs">Y</text>
<g filter="url(#bl)">
<polyline class="mh" points="234.1,210.3 237.5,215.6 224.4,216.2 229.2,217.3 234.2,218.4 223.2,208.2 224.7,205.9 222.6,212.8 231.5,209.6 236.5,212.5 229.2,208.1 227.4,206.4 221.2,210.2 231.7,218.2"/>
<polyline class="mo" points="225.9,212.8 231.6,216.0 236.2,216.0 229.4,214.6 226.5,215.3 222.5,209.9 231.9,213.1 229.2,209.8 226.0,208.6 235.9,213.1 232.0,210.3 223.1,212.3 234.3,217.8 233.9,214.7 228.9,217.1 225.4,206.1 228.4,212.2 224.0,214.7"/>
<polyline class="mh" points="247.9,210.6 251.7,210.1 255.4,205.0 246.6,197.4 240.7,201.1 239.7,205.1 249.3,197.0 241.0,207.8 254.7,209.5 253.7,197.3 255.3,199.7 243.3,209.5 243.1,198.7 256.4,202.3"/>
<polyline class="mo" points="244.2,205.1 254.0,202.3 246.8,202.6 246.0,198.3 247.3,205.9 252.7,207.8 242.2,207.4 249.8,198.9 246.0,209.6 250.2,203.2 253.6,205.2 252.5,198.5 242.8,201.9 250.3,206.1 240.2,202.4 249.6,208.5 240.8,205.2 243.2,199.4 251.8,201.0"/>
<polyline class="mh" points="278.8,208.1 275.0,199.0 280.3,203.6 269.5,211.6 276.4,210.9 272.2,200.0 262.2,204.0 267.9,201.0 278.2,198.0 265.6,202.3 263.4,207.0 279.7,200.7 273.3,210.9 266.6,209.9"/>
<polyline class="mo" points="271.7,204.4 271.1,210.0 272.9,201.7 269.0,202.1 275.1,202.8 265.8,204.2 276.5,207.2 278.7,205.4 278.0,198.4 275.5,200.3 267.7,209.2 271.3,207.2 265.6,206.7 268.8,204.8 279.7,202.8 274.9,209.7 263.4,205.5 274.3,206.0 277.7,209.8 278.0,200.9"/>
<polyline class="mh" points="251.8,227.6 257.8,221.2 243.8,226.9 241.0,220.3 248.2,214.5 254.7,225.8 255.4,215.9 256.5,219.0 242.5,224.7 244.9,215.7 246.8,227.5 241.5,217.1 257.7,223.9 252.3,215.4"/>
<polyline class="mo" points="256.5,223.8 250.3,224.7 251.7,219.5 245.6,221.9 248.3,223.0 254.4,219.7 252.8,222.4 246.1,217.1 244.9,225.5 241.7,217.7 251.4,216.1 242.6,223.2 249.4,220.7 254.2,216.3 252.1,226.9 248.9,217.8 256.5,221.1 243.0,219.9 248.5,227.0 253.9,224.7 246.9,219.7 248.2,215.3"/>
<polyline class="mh" points="221.5,230.7 224.7,238.6 232.4,237.1 234.5,228.5 227.9,225.1 235.4,231.0 234.4,234.2 223.2,228.0 222.4,237.4 229.0,239.2 231.2,226.7 221.2,234.9 226.6,240.3 225.9,226.8"/>
<polyline class="mo" points="226.8,232.3 227.5,235.0 226.8,237.6 233.6,231.5 230.1,230.6 227.7,228.2 224.3,236.4 225.4,229.3 233.1,235.0 222.9,231.6 230.9,237.0 230.4,227.5 230.4,234.1 222.4,234.1 222.7,229.1 232.8,228.8 225.0,234.0"/>
<polyline class="mh" points="266.4,228.0 272.6,219.0 275.9,227.5 269.4,217.7 276.9,222.6 277.4,225.4 263.8,218.7 262.4,223.1 275.9,219.9 271.4,229.9 263.9,227.2 266.3,218.1 268.8,228.8 262.0,220.6"/>
<polyline class="mo" points="266.1,222.3 272.7,221.5 269.6,226.8 276.4,224.4 272.9,226.8 267.1,219.6 266.2,225.7 270.7,224.3 262.9,220.0 269.4,220.4 264.0,223.8 273.4,224.0 275.8,221.6 271.1,229.1 268.4,223.2 264.4,227.5 267.3,227.9 271.7,219.0 276.1,226.9"/>
<polyline class="mh" points="252.4,232.4 254.4,248.6 251.3,248.0 255.3,234.7 246.6,238.6 258.4,239.5 249.9,232.8 258.3,236.8 246.8,234.5 247.4,245.5 258.3,244.4 247.2,242.0 256.3,246.2 259.4,241.9"/>
<polyline class="mo" points="251.0,245.3 255.8,236.4 253.4,247.4 250.3,238.8 246.4,236.6 254.1,239.4 252.4,236.4 258.3,243.8 257.2,239.8 255.9,242.9 251.9,242.1 249.9,235.6 248.0,242.9 252.5,233.5 256.0,245.8 247.6,240.3 253.6,244.6 248.5,245.8 258.1,237.5"/>
<polyline class="mx" points="228.2,166.6 230.6,167.1 229.8,166.2 231.8,167.6 234.1,169.2 231.6,167.5 230.5,168.2 230.6,166.9 235.4,168.8 231.2,167.6 222.9,173.6 221.8,174.4 233.9,173.8 234.4,177.9 233.1,177.4 233.0,171.7 234.6,175.9 234.4,174.7 242.1,167.3 250.6,171.3 251.6,171.7 245.8,170.2 245.6,169.4 245.1,168.4 248.4,171.4 243.6,167.5 249.9,170.8 254.0,174.1 247.9,171.2 250.7,171.2 263.1,171.7 262.8,173.1 225.5,182.6 220.3,184.1 224.0,184.2 216.7,186.1 225.6,183.9 218.5,184.6 223.4,183.9 228.4,184.1 219.4,184.7 220.8,184.4 234.6,184.0 236.5,188.1 237.0,190.6 238.4,190.1 237.1,189.4 233.9,185.2 236.0,187.4 232.2,182.4 233.8,183.8 233.1,183.3 245.2,182.9 243.9,179.1 246.5,183.5 242.6,179.1 243.8,178.2 246.8,183.2 248.4,189.1 243.1,178.6 244.9,183.7 242.0,176.7 243.7,179.1 244.1,179.3 248.7,188.1 245.2,181.6 256.5,185.6 254.3,179.3 256.0,186.3 256.6,180.1 256.2,181.2 257.7,188.0 257.3,183.8 256.6,186.9 256.0,178.1 257.4,189.9 270.8,182.9 272.6,183.9 266.8,179.6 273.7,184.0 270.9,181.7 270.9,183.2 276.9,186.9 273.3,184.7 270.8,183.5 269.6,180.8 267.7,181.8 278.0,186.6 215.3,197.3 211.7,194.6 208.8,192.7 215.8,198.0 209.6,194.1 210.8,193.0 218.0,198.3 208.6,194.4 215.3,197.0 207.2,193.0 224.6,194.7 225.4,195.4 226.3,197.4 228.3,198.8 229.1,198.8 227.0,198.7 226.4,197.6 225.0,196.7 237.5,202.1 236.3,200.7 234.8,193.7 234.3,193.7 234.0,195.8 237.5,203.8 235.1,193.6 234.9,197.7 236.5,201.4 233.7,193.1 234.6,194.2 234.5,198.8 261.6,192.5 262.7,195.0 261.9,191.9 262.7,194.1 264.2,197.3 261.5,191.7 263.4,198.1 260.9,189.2 262.9,193.3 262.6,194.0 271.2,191.4 270.7,192.0 205.4,212.7 203.0,207.7 202.2,203.4 203.4,210.4 202.8,207.8 204.0,213.9 202.7,204.4 201.2,203.2 200.6,205.9 203.4,206.8 204.7,211.6 202.7,202.1 213.1,210.4 214.5,212.0 212.9,208.4 214.9,210.9 211.1,206.4 214.2,213.0 213.2,209.5 213.2,209.7 215.9,221.7 211.1,220.4 216.2,222.2 213.4,220.6 208.9,218.6 202.2,216.4 217.2,221.8 207.7,220.1 197.8,215.3 196.4,216.8 215.1,222.5 206.2,218.5 211.5,221.5 207.5,218.8 214.7,220.8 213.9,220.8 210.3,219.9 213.8,221.4 291.1,218.4 288.3,213.0 286.8,202.7 287.7,203.8 290.9,218.0 287.0,204.7 288.5,211.0 289.3,217.5 291.0,216.1 288.8,210.7 290.1,214.0 289.8,213.5 287.0,205.1 289.0,210.6 283.6,217.7 285.2,217.7 285.3,217.7 286.6,218.8 285.6,218.4 286.0,218.3 293.7,225.3 294.6,226.6 211.0,235.6 209.7,234.8 211.9,236.2 208.5,232.3 211.4,237.2 206.4,232.2 210.0,235.0 210.7,236.3 282.9,231.5 280.5,230.5 285.6,234.5 283.3,232.4 281.2,230.7 283.9,232.7 281.2,230.4 284.2,233.0 267.7,245.9 266.4,241.8 267.4,242.6 266.3,240.9 266.5,237.3 267.2,238.3 266.4,240.8 267.3,240.9 266.1,236.8 268.1,240.9 267.8,253.5 267.3,255.2 262.7,248.3 267.4,253.5 263.4,250.7 265.0,251.0 264.0,249.9 262.8,247.6 279.9,248.8 280.4,248.5 278.4,245.8 277.7,244.9 281.1,249.3 276.4,243.8 215.4,248.2 212.1,245.1 216.2,247.5 213.7,246.3 214.8,247.2 214.6,247.2 214.4,249.1 217.6,250.4 226.3,248.1 228.0,253.5 226.2,248.5 228.5,255.9 226.4,249.7 228.9,254.3 227.7,254.7 224.8,248.4 240.2,242.3 237.5,241.1 237.1,240.7 233.6,237.8 237.1,240.4 239.8,242.2 238.1,241.0 236.3,239.2 238.3,251.0 242.1,253.6 237.0,249.7 238.6,252.0 240.0,253.4 239.5,253.0 241.9,252.6 241.5,253.2 229.6,262.6 229.9,264.1 229.7,262.3 230.6,262.5 229.7,262.9 228.7,262.4 243.2,262.1 243.0,262.2 243.4,261.4 245.2,265.2 243.8,261.5 240.7,260.0 244.2,263.2 245.2,264.4 251.6,254.9 254.8,260.0 253.8,258.3 252.4,255.0 253.0,257.4 256.3,261.9 257.1,264.5 256.5,261.9 255.0,259.3 251.9,258.1"/>
</g>
</g>
<g clip-path="url(#c2)">
<path d="M357.9 161.6V269.9H468.1" fill="none" stroke="#333333" stroke-width="0.85"/>
<path d="M365.70 269.9v3.1M413.15 269.9v3.1M460.60 269.9v3.1M357.9 262.40h-3.1M357.9 239.40h-3.1M357.9 216.40h-3.1M357.9 193.40h-3.1M357.9 170.40h-3.1" stroke="#333333" stroke-width="0.8"/>
<text x="365.7" y="281.1" font-size="7.59" text-anchor="middle" font-family="Liberation Sans" fill="#1e1e1e" textLength="19.0" lengthAdjust="spacingAndGlyphs">−100</text>
<text x="413.1" y="281.1" font-size="7.59" text-anchor="middle" font-family="Liberation Sans" fill="#1e1e1e" textLength="4.4" lengthAdjust="spacingAndGlyphs">0</text>
<text x="460.6" y="281.1" font-size="7.59" text-anchor="middle" font-family="Liberation Sans" fill="#1e1e1e" textLength="13.2" lengthAdjust="spacingAndGlyphs">100</text>
<text x="351.7" y="264.9" font-size="7.59" text-anchor="end" font-family="Liberation Sans" fill="#1e1e1e" textLength="19.0" lengthAdjust="spacingAndGlyphs">−100</text>
<text x="351.7" y="241.9" font-size="7.59" text-anchor="end" font-family="Liberation Sans" fill="#1e1e1e" textLength="14.6" lengthAdjust="spacingAndGlyphs">−50</text>
<text x="351.7" y="218.9" font-size="7.59" text-anchor="end" font-family="Liberation Sans" fill="#1e1e1e" textLength="4.4" lengthAdjust="spacingAndGlyphs">0</text>
<text x="351.7" y="195.9" font-size="7.59" text-anchor="end" font-family="Liberation Sans" fill="#1e1e1e" textLength="8.8" lengthAdjust="spacingAndGlyphs">50</text>
<text x="351.7" y="172.9" font-size="7.59" text-anchor="end" font-family="Liberation Sans" fill="#1e1e1e" textLength="13.2" lengthAdjust="spacingAndGlyphs">100</text>
<text x="413.0" y="157.4" font-size="9.33" text-anchor="middle" font-family="Liberation Sans" fill="#1e1e1e" textLength="56.9" lengthAdjust="spacingAndGlyphs">t-SNE Result</text>
<text x="413.0" y="291.6" font-size="7.85" text-anchor="middle" font-family="Liberation Sans" fill="#1e1e1e" textLength="5.2" lengthAdjust="spacingAndGlyphs">X</text>
<text transform="translate(326.9 215.8) rotate(-90)" font-size="7.85" text-anchor="middle" font-family="Liberation Sans" fill="#1e1e1e" textLength="4.6" lengthAdjust="spacingAndGlyphs">Y</text>
<g filter="url(#bl)">
<ellipse cx="413.0" cy="215.7" rx="51.5" ry="51.5" fill="#fdcfae" fill-opacity="1.00"/>
<path d="M415.5 202.0L418.9 204.6L423.2 210.6L425.8 215.8L429.3 220.9L425.0 223.5L420.7 230.4L418.1 233.0L413.8 230.4L409.5 227.8L411.2 224.4L416.4 222.7L420.7 219.2L421.5 215.8L417.2 207.2L413.8 204.6Z" fill="#ffffff" fill-opacity="1.00"/>
<path d="M399.6 217.1L403.5 217.9L403.0 221.4L399.6 220.9Z" fill="#ffffff" fill-opacity="1.00"/>
<polyline class="my" points="408.1,198.3 417.2,235.7 387.0,231.2 439.4,179.9 434.5,233.0 390.4,211.3 454.7,215.9 393.0,194.7 451.8,218.9 402.8,192.4 454.1,240.1 387.3,235.2 394.0,204.7 450.0,222.0 433.0,250.5 389.4,227.9 386.3,257.6 393.2,198.7 402.2,257.6 437.6,197.8 439.2,189.1 428.6,199.1 367.0,219.2 457.8,203.9 366.1,210.0 385.2,193.5 420.6,177.4 370.0,190.3 454.0,198.0 399.6,263.4 441.3,177.2 425.7,205.3 438.6,257.9 418.1,259.1 397.9,181.3 408.4,248.4 374.9,208.1 381.8,223.3 447.5,183.8 434.3,220.4 461.9,207.7 416.5,196.1 444.5,233.6 422.1,246.2 428.9,224.4 369.3,237.6 374.9,222.3 430.5,196.3 383.3,244.6 390.6,172.6 432.7,178.5 384.3,180.0 448.1,227.9 442.8,190.2 405.3,211.0 394.2,178.1 402.7,249.5 378.7,191.1 411.9,207.4 425.0,186.4 428.4,242.9 383.8,200.2 378.3,238.4 414.1,248.6 426.2,196.9 433.3,245.6 419.0,264.1 399.1,203.4 383.6,187.7 390.6,248.7 421.0,256.4 370.3,207.6 446.1,222.9 399.7,199.1 409.5,240.9 407.7,186.1 430.4,261.7 432.6,254.4 371.4,204.5 441.3,254.2 438.7,241.8 411.0,262.1 453.9,212.3 369.0,193.8 374.0,185.9 394.7,171.0 396.8,260.6 439.4,225.5 364.6,227.0 396.0,210.3 396.0,218.2 403.3,175.7 378.0,184.4 399.8,170.2 442.2,205.5 400.5,227.9 438.8,207.0 412.2,252.4 422.3,166.1 412.3,215.1 460.4,211.8 455.0,224.1 388.6,244.3 438.7,217.5 459.6,225.9 452.5,243.0 410.4,230.5 448.3,198.7 399.5,190.4 432.1,202.2 404.8,183.1 381.9,236.1 398.5,193.6 434.4,257.5 420.5,261.2 393.8,258.7 428.7,180.8 403.4,203.5 385.2,214.9 387.7,218.8 433.8,212.7 416.9,245.0 387.4,240.7 380.4,217.8 419.9,171.2 441.1,248.7 375.5,245.6 367.3,206.3 399.3,253.7 412.3,220.3 435.6,188.1 440.0,245.0 429.7,205.6 403.9,255.1 388.7,199.5 420.5,183.8 412.8,236.3 428.0,259.5 432.6,207.7 397.4,231.7 385.1,208.2 444.1,250.7 416.8,212.7 411.4,199.8 375.1,214.6 375.4,225.6 459.2,231.2 424.9,257.1 449.4,241.6 406.1,219.1 441.3,230.3 439.3,174.6 443.6,226.7 407.3,236.7 390.9,232.5 432.6,171.0 386.3,249.2 446.0,230.0 394.5,254.3 396.1,187.1 427.0,232.2 410.2,175.9 372.3,242.9 407.2,172.6 396.9,200.8 427.2,211.4 425.1,226.6 372.7,216.7 368.4,198.6 395.8,175.5 391.0,207.5 424.3,171.2 451.1,201.6 443.1,219.6 407.5,262.0 374.9,198.2 436.3,246.1 415.5,168.5 414.5,185.5 457.8,200.8 390.4,257.3 422.1,173.9 372.2,238.7 406.5,244.6 436.3,172.8 446.6,205.6 425.8,201.4 434.8,237.1 448.9,236.8 408.5,190.0 406.5,232.2 381.0,202.8 415.3,240.3 396.4,244.1 449.5,215.2 376.8,205.1 422.1,188.5 390.4,178.0 424.8,208.3 387.2,172.4 442.9,211.6 462.2,204.2 378.7,188.1 415.5,172.3 410.8,211.9 388.7,202.9 393.5,230.3 426.0,251.0 400.5,234.5 417.6,255.3 442.9,238.2 450.2,245.3 447.2,189.3 383.5,227.9 455.2,194.4 443.1,186.2 394.6,250.5 404.8,241.5 378.5,213.6 401.4,183.0 458.6,207.9 413.9,264.1 439.5,193.6 378.4,242.0 437.3,252.1 382.4,210.9 402.0,246.2 376.4,233.9 410.6,172.6 382.1,253.0 393.9,181.8 409.3,218.6 385.0,176.3 439.2,236.9 393.9,242.0 423.2,238.9 423.9,233.7 378.9,179.4 411.3,181.8 434.5,261.0 428.5,238.9 429.4,217.0 382.4,231.1 370.9,212.5 430.0,168.2 420.4,251.2 397.8,221.0 446.1,192.6 457.8,216.6 403.5,229.8 422.2,203.5 439.1,222.3 414.2,199.0 433.3,191.8 369.2,224.2 362.5,217.3 406.3,257.0 438.9,212.4 424.5,180.9 376.8,195.6 434.9,240.9 450.1,207.8 437.5,232.7 391.8,202.4 429.7,190.1 418.3,188.1 447.3,217.7 403.7,223.2 385.3,211.5 373.4,193.9 428.8,247.7 445.1,214.2 456.5,228.3 402.2,208.2 398.1,257.3 415.7,208.8 376.5,248.5 379.7,233.3 380.8,246.7 449.7,195.8 447.1,245.4 440.6,233.7 443.0,193.9 445.4,199.3 448.4,233.8 394.0,221.0 379.6,250.8 451.6,233.5 398.3,250.7 412.2,189.1 398.1,173.3 376.5,201.4 391.5,215.7 461.6,220.6 416.4,177.9 388.6,192.5 408.7,224.2 393.9,233.8 415.1,181.0 415.7,218.2 404.6,167.9 450.6,191.6 405.1,179.8 379.4,227.0 442.5,223.3 438.3,183.3 403.8,234.3 419.3,198.1 411.1,256.5 419.7,201.4 443.8,202.4 405.6,225.7 417.7,215.7 440.9,196.9 395.4,224.9 431.2,186.4 406.9,206.0 452.4,184.5 366.1,232.3 385.2,183.5 389.6,254.4 451.5,225.0 393.1,187.8 428.9,234.6 391.3,260.6 424.8,260.9 426.1,191.2 391.2,236.2 378.1,222.1 449.6,248.7 396.0,228.1 364.0,214.2 441.4,183.5 435.5,203.2 411.7,204.4 432.8,223.1 447.1,180.1 406.1,193.3 392.2,190.8 415.8,192.8 372.5,200.3 398.4,225.2 426.3,245.4 410.9,184.9 456.2,233.2 401.6,179.3 431.0,211.1 452.2,205.2 428.4,184.9 400.4,186.1 386.9,189.8 389.2,185.2 395.3,192.5 401.1,215.1 396.9,206.4 422.8,249.4 445.8,208.5 401.0,243.1 404.0,172.0 443.0,242.4 427.0,174.2 398.7,237.7 371.9,228.0 404.1,262.2 455.2,206.3 419.5,167.6 382.7,249.3 407.2,177.0 405.2,200.1 440.9,201.6 458.6,236.3 444.4,254.9 433.6,195.2 436.4,193.4 432.3,215.5 397.3,213.3 450.1,187.2 400.1,211.9 435.8,181.0 461.8,223.8 440.7,215.0 421.6,235.8 371.8,196.7 410.4,195.4 455.5,236.9 419.0,191.9 374.1,190.0 371.7,232.8 392.7,246.3 409.9,167.9 409.6,265.5 390.1,196.2 443.2,246.0 376.1,228.7 378.6,210.0 453.4,209.3 457.2,213.6 379.7,199.4 364.9,222.2 436.2,176.6 412.9,170.3 387.6,224.5 424.7,177.8 429.6,252.1 383.2,238.9 435.5,224.6 398.0,247.4 426.7,168.4 367.9,215.7 369.5,241.0 413.8,244.0 395.9,197.2 431.2,231.5 430.2,176.7 433.7,229.4 388.0,251.7 383.0,220.0 406.6,252.0 410.1,245.7 438.1,248.7 391.2,223.4 423.6,194.0 458.4,221.5 420.0,241.1 459.6,196.7 428.5,228.3 404.8,189.9 408.5,215.5 390.7,219.8 364.4,204.9 405.2,265.1 449.0,210.9 424.1,242.9 367.4,202.0 408.7,259.1 387.7,206.3 432.9,182.8 383.6,205.4 408.2,181.7 445.9,241.5 383.6,196.4 404.4,196.7 455.1,188.5 409.0,202.2 389.8,181.3 401.5,239.9 463.2,213.0 428.9,202.2 431.0,241.3 363.1,209.3 380.9,182.6 413.7,165.7 444.6,176.7 381.9,192.9 400.2,260.0 435.3,209.4 428.8,255.4 438.1,229.5 423.4,253.7 455.3,220.6 428.4,194.2 437.0,255.2 376.0,211.8 381.2,177.2 375.4,218.7 392.7,226.8 435.7,185.0 426.6,263.5 422.1,264.0 417.1,251.8 461.8,215.8 423.1,199.3 367.7,227.7 434.1,199.8 418.7,248.6 450.2,230.5 446.3,196.2 452.1,237.7 371.0,220.4 454.5,202.6 414.3,259.6 404.5,214.7 405.2,247.4 397.2,241.1 388.9,214.2 414.5,232.8 443.2,180.4 441.7,208.9 400.2,176.2 373.7,235.7 400.9,231.3 458.3,193.6 419.5,195.1 386.1,221.6 380.1,206.2 400.4,222.8 425.1,229.8 414.0,175.1 431.5,236.6 431.4,257.5 375.3,239.3 392.8,175.1 397.2,168.5 437.0,215.0 400.2,166.9 384.6,233.4 430.0,173.6 390.9,239.7 393.5,212.4 382.2,214.3 419.6,180.7 430.9,220.3 407.7,209.3 395.1,238.8 447.1,202.0 454.2,230.2 425.4,236.6 409.1,234.2 384.9,252.0 411.8,192.6 372.6,224.6 404.2,186.2 418.9,174.2 400.4,196.1 461.3,228.8 429.5,213.8 417.2,183.5 407.8,228.1 460.7,199.5 421.3,232.2 365.4,199.6 402.6,237.1 444.5,183.4 414.2,255.8 447.5,251.1 431.8,226.4 412.3,178.9 402.2,252.6 380.5,196.2 375.9,182.2 367.4,235.1 374.4,231.5 382.2,241.8 396.1,184.0 388.9,175.3 379.4,230.3 409.1,254.2 438.6,203.6 457.0,210.6 415.3,221.2 413.6,195.0 407.3,165.6 367.4,212.7 369.1,230.6 445.9,237.5 427.7,187.8 387.3,179.6 391.8,251.6 392.3,184.6 452.0,228.0 457.3,239.7 384.6,225.0 433.1,174.2 416.9,165.9 386.9,196.9 397.2,234.8 382.9,256.0 390.0,188.5 419.2,238.2 416.3,266.0 428.8,208.6 415.3,189.1 394.0,262.0 416.4,262.5 394.1,207.7 453.7,191.3 412.4,239.5 401.2,173.3 448.5,224.8 398.9,208.8 386.1,246.0 397.6,178.0 388.0,209.3 428.4,171.0 450.2,182.0 381.4,189.9 385.5,202.9 395.0,215.4 445.9,248.3 419.0,218.5 366.7,196.0 439.8,186.1 434.8,217.3 453.2,246.0 413.8,211.5 380.8,185.9 386.5,186.7 435.2,206.3 375.4,242.4 374.2,203.5 377.6,216.5 371.3,187.4 455.6,242.8 426.0,240.5 407.2,169.5 386.6,254.6 402.0,188.6 372.5,209.9"/>
<polyline class="mo" points="400.1,204.7 400.6,203.8 400.1,204.7 400.4,203.3 400.7,205.2 399.9,204.7 405.1,203.0 404.6,201.6 404.2,201.3 402.8,203.4 405.8,203.4 406.5,203.0 418.3,197.3 419.8,198.8 416.9,198.8 417.4,198.1 417.7,199.0 419.1,199.5 420.8,199.1 423.4,203.8 422.4,201.7 423.8,202.6 422.1,201.9 424.0,203.4 423.0,203.6 412.9,208.3 413.4,208.8 414.3,210.3 416.7,211.1 413.0,207.0 418.1,211.8 417.2,211.8 412.4,207.2 418.0,212.6 418.1,211.8 419.2,215.2 418.1,213.3 417.8,216.3 420.1,213.7 419.4,216.1 428.7,213.3 428.6,213.1 434.9,217.4 434.3,219.2 428.1,212.1 433.6,217.0 428.1,212.1 428.3,213.5 429.3,214.6 428.3,212.3 430.5,213.8 433.4,216.4 395.0,215.3 395.4,216.8 396.5,215.3 396.6,218.6 396.0,218.8 395.0,223.2 396.4,220.7 396.4,222.5 396.8,221.5 396.2,222.3 406.2,231.8 410.2,233.7 405.2,233.2 406.0,232.4 407.6,232.9 409.2,233.7 415.7,232.9 413.6,232.8 412.2,232.4 416.6,233.0 414.1,234.0 414.0,233.3 411.7,233.0 426.9,227.3 425.6,226.7 425.7,226.9 428.4,225.5 426.9,226.7 426.4,226.4 422.5,233.5 424.9,230.3 423.5,230.3 422.9,232.6 424.6,232.1 423.2,230.3"/>
</g>
</g>
<g clip-path="url(#c3)">
<path d="M519.6 161.6V269.9H632.2" fill="none" stroke="#333333" stroke-width="0.85"/>
<path d="M547.30 269.9v3.1M575.95 269.9v3.1M604.60 269.9v3.1M519.6 245.20h-3.1M519.6 218.07h-3.1M519.6 190.93h-3.1M519.6 163.80h-3.1" stroke="#333333" stroke-width="0.8"/>
<text x="547.3" y="281.1" font-size="7.59" text-anchor="middle" font-family="Liberation Sans" fill="#1e1e1e" textLength="14.6" lengthAdjust="spacingAndGlyphs">−50</text>
<text x="576.0" y="281.1" font-size="7.59" text-anchor="middle" font-family="Liberation Sans" fill="#1e1e1e" textLength="4.4" lengthAdjust="spacingAndGlyphs">0</text>
<text x="604.6" y="281.1" font-size="7.59" text-anchor="middle" font-family="Liberation Sans" fill="#1e1e1e" textLength="8.8" lengthAdjust="spacingAndGlyphs">50</text>
<text x="513.5" y="247.7" font-size="7.59" text-anchor="end" font-family="Liberation Sans" fill="#1e1e1e" textLength="14.6" lengthAdjust="spacingAndGlyphs">−50</text>
<text x="513.5" y="220.6" font-size="7.59" text-anchor="end" font-family="Liberation Sans" fill="#1e1e1e" textLength="4.4" lengthAdjust="spacingAndGlyphs">0</text>
<text x="513.5" y="193.4" font-size="7.59" text-anchor="end" font-family="Liberation Sans" fill="#1e1e1e" textLength="8.8" lengthAdjust="spacingAndGlyphs">50</text>
<text x="513.5" y="166.3" font-size="7.59" text-anchor="end" font-family="Liberation Sans" fill="#1e1e1e" textLength="13.2" lengthAdjust="spacingAndGlyphs">100</text>
<text x="575.9" y="157.4" font-size="9.33" text-anchor="middle" font-family="Liberation Sans" fill="#1e1e1e" textLength="56.9" lengthAdjust="spacingAndGlyphs">t-SNE Result</text>
<text x="575.9" y="291.6" font-size="7.85" text-anchor="middle" font-family="Liberation Sans" fill="#1e1e1e" textLength="5.2" lengthAdjust="spacingAndGlyphs">X</text>
<text transform="translate(493.0 215.8) rotate(-90)" font-size="7.85" text-anchor="middle" font-family="Liberation Sans" fill="#1e1e1e" textLength="4.6" lengthAdjust="spacingAndGlyphs">Y</text>
<g filter="url(#bl)">
<polyline class="mh" points="591.1,192.8 589.4,187.4 584.1,187.5 573.6,191.8 590.1,196.7 578.1,199.8 585.8,200.5 576.7,189.4 579.4,188.1 588.2,198.8 582.7,199.9 574.6,198.5 586.7,187.4 573.2,196.4 590.4,190.3 571.7,193.8"/>
<polyline class="mo" points="588.9,187.9 579.0,191.0 588.1,197.5 584.4,188.9 583.3,195.2 575.0,197.5 577.3,194.3 588.0,194.9 577.2,199.3 586.3,191.5 573.8,192.8 582.3,192.5 581.9,199.2 584.3,198.1 581.1,189.1 589.2,190.6 580.1,196.1 590.5,195.9 576.1,190.9 572.7,195.2 590.0,193.1 579.8,193.5"/>
<polyline class="mh" points="583.1,210.0 586.9,213.7 584.7,204.8 591.6,215.3 592.8,200.3 597.9,212.1 599.7,207.7 589.7,201.1 582.7,207.0 594.2,214.1 597.9,202.8 598.9,205.1 584.0,212.7 587.2,203.3 595.2,201.4 600.3,211.2"/>
<polyline class="mo" points="584.0,206.8 597.3,210.6 586.3,209.2 590.9,207.9 586.2,204.8 593.0,213.7 591.5,211.4 594.3,207.0 593.9,203.3 598.6,206.3 586.0,212.8 590.4,202.1 594.6,210.9 589.1,212.9 596.7,203.5 591.2,205.3 588.2,207.2 583.9,210.9 588.9,209.8 588.8,204.2"/>
<polyline class="mh" points="549.8,220.6 565.9,220.8 553.9,208.7 563.2,221.4 559.8,210.8 557.6,209.5 549.6,214.9 559.8,222.4 553.9,222.4 565.1,216.2 552.4,211.7 563.1,213.2 556.8,222.9 551.1,222.9 548.4,218.2 566.8,218.4"/>
<polyline class="mo" points="552.1,217.3 561.2,213.4 557.9,218.5 556.9,221.0 553.6,219.8 560.9,216.6 563.8,220.1 555.3,208.7 558.5,211.2 557.2,215.8 551.5,214.3 549.1,217.4 564.5,216.7 560.1,221.1 555.4,213.2 550.7,219.6 555.2,217.8 553.9,210.9 554.0,215.5 566.4,219.6 551.7,222.0"/>
<polyline class="mh" points="588.4,229.8 575.5,217.6 573.2,222.9 582.8,233.7 578.4,215.4 578.5,231.4 586.0,222.4 581.5,217.4 575.1,227.8 585.3,232.5 574.0,225.3 583.9,219.8 572.4,219.3 587.7,226.4"/>
<polyline class="mo" points="577.2,228.2 580.4,220.9 580.9,226.3 576.1,219.0 581.9,229.0 580.9,223.7 584.9,229.8 585.3,226.6 584.2,222.3 574.3,221.8 582.2,232.5 578.1,217.1 579.0,230.2 577.7,225.3 574.9,224.5 573.5,219.1 582.9,220.0 577.6,221.6 587.6,229.6 580.6,218.1 586.1,224.1 583.2,224.8"/>
<polyline class="mh" points="618.3,222.3 616.0,224.3 609.8,213.9 611.1,226.7 601.3,226.7 607.5,227.1 614.7,215.9 600.1,219.3 599.6,224.7 616.9,217.3 606.1,215.1 604.9,226.8 603.5,216.3 599.0,222.2 613.7,225.7 612.3,215.0 617.5,219.9"/>
<polyline class="mo" points="610.0,215.6 603.7,221.2 607.9,218.0 606.7,223.8 601.5,222.7 616.9,220.2 614.1,217.3 614.3,222.9 608.9,226.7 609.1,221.7 605.5,218.9 604.3,225.0 612.0,220.0 600.8,225.3 602.6,218.2 612.3,225.2 606.5,215.7 600.4,220.3 617.5,222.8 609.9,224.3"/>
<polyline class="mh" points="574.5,233.6 568.8,241.1 562.1,228.7 573.9,238.8 557.7,234.5 559.0,240.7 571.3,239.5 558.9,231.3 565.4,242.0 570.4,228.5 573.8,230.7 565.4,226.4 558.1,237.9 574.8,236.4 562.8,241.2 567.7,227.5"/>
<polyline class="mo" points="562.2,235.6 567.5,232.3 566.6,238.2 560.2,232.3 570.8,234.0 569.9,238.4 570.1,231.1 566.2,230.0 573.9,236.2 566.7,235.0 563.6,231.8 562.9,229.0 560.2,238.2 563.9,241.0 559.0,234.8 565.5,227.5 563.2,238.1 573.4,230.8 568.2,240.5 568.3,228.4 573.4,233.5"/>
<polyline class="mh" points="578.1,258.6 570.2,263.2 564.2,251.8 579.1,255.3 569.2,244.8 579.0,247.1 575.5,261.6 565.6,248.9 578.5,251.9 564.8,258.0 574.3,245.6 573.6,263.5 566.0,260.9 564.1,255.5 567.3,246.9"/>
<polyline class="mo" points="578.2,255.6 568.2,255.2 570.5,247.9 574.2,261.5 566.3,248.8 569.3,262.0 572.2,257.7 569.3,259.3 575.4,257.3 565.7,252.5 565.7,256.3 573.7,254.5 566.1,260.3 577.8,250.2 571.7,252.5 568.4,252.0 574.8,247.6 572.5,264.0 574.6,250.3 571.8,260.3 576.5,253.1 572.1,245.8 576.2,259.8 570.8,255.5 577.5,247.5"/>
<ellipse cx="580.0" cy="176.2" rx="3.8" ry="2.8" fill="#fdcfae" fill-opacity="0.80"/>
<polyline class="my" points="578.9,179.2 578.7,176.1 580.6,173.9 577.4,172.9 582.4,176.8 583.9,174.8 576.2,178.0 575.1,174.7 582.4,179.5 584.7,178.2"/>
<ellipse cx="562.5" cy="188.0" rx="3.5" ry="3.1" fill="#fdcfae" fill-opacity="0.80"/>
<polyline class="my" points="560.3,187.5 565.5,190.9 560.3,190.1 562.9,189.8 561.9,192.4 564.9,185.3 565.5,187.7 558.4,185.6 562.4,184.3 557.7,188.9 562.6,186.8"/>
<ellipse cx="549.5" cy="185.0" rx="2.8" ry="3.8" fill="#fdcfae" fill-opacity="0.80"/>
<polyline class="my" points="550.3,182.3 547.4,181.5 552.3,184.5 552.6,188.0 547.7,186.3 550.0,188.5 545.7,183.7 548.4,183.9 549.5,179.7 547.8,189.5 550.2,185.7 552.6,181.6"/>
<ellipse cx="540.5" cy="196.2" rx="3.5" ry="2.8" fill="#fdcfae" fill-opacity="0.80"/>
<polyline class="my" points="536.6,193.9 542.0,195.1 537.8,198.4 541.1,198.4 544.3,196.5 539.5,195.4 543.7,199.0 538.9,192.5 536.3,196.3 544.2,193.8 541.3,192.6"/>
<ellipse cx="533.0" cy="227.5" rx="2.8" ry="4.2" fill="#fdcfae" fill-opacity="0.80"/>
<polyline class="my" points="531.8,222.9 529.6,226.2 535.1,223.4 532.0,227.1 530.4,230.2 536.5,228.8 532.9,232.0 534.6,226.8 535.7,231.2 533.6,229.1 536.5,225.4"/>
<ellipse cx="570.0" cy="208.0" rx="3.5" ry="2.8" fill="#fdcfae" fill-opacity="0.80"/>
<polyline class="my" points="565.8,209.7 565.9,206.0 569.1,205.5 569.2,211.2 570.6,208.3 573.4,207.1 568.0,207.7 573.0,210.0 571.3,204.3"/>
<ellipse cx="610.0" cy="196.2" rx="3.8" ry="2.8" fill="#fdcfae" fill-opacity="0.80"/>
<polyline class="my" points="607.5,193.8 608.3,196.1 614.5,197.5 610.5,199.8 610.8,194.8 605.7,198.1 609.6,192.7 605.2,195.1 612.1,197.2 613.2,194.5 607.8,199.6"/>
<ellipse cx="603.8" cy="241.2" rx="3.1" ry="3.8" fill="#fdcfae" fill-opacity="0.80"/>
<polyline class="my" points="602.8,244.2 603.3,240.5 606.0,243.8 607.1,237.6 600.7,240.9 601.6,238.4 608.2,241.6 605.9,240.1 604.7,246.3 603.4,236.0 600.3,243.9"/>
<ellipse cx="580.0" cy="177.0" rx="2.4" ry="1.8" fill="#fdcfae" fill-opacity="0.80"/>
<polyline class="my" points="582.5,176.8 578.4,176.5 579.8,174.6 580.0,179.4"/>
<polyline class="mx" points="571.0,166.6 567.6,172.4 548.0,173.2 547.2,174.8 550.1,176.0 540.1,184.3 554.3,189.7 552.9,187.9 554.3,191.1 561.0,196.0 562.1,195.7 558.0,195.1 562.6,201.4 563.5,199.8 557.8,203.0 554.5,206.1 553.8,204.2 547.3,206.1 538.5,212.1 532.5,203.7 532.6,206.3 525.8,209.4 527.9,218.0 528.0,195.6 529.0,193.7 539.1,217.3 542.9,223.8 542.4,221.0 541.4,226.4 545.5,229.2 540.0,235.5 538.5,236.8 539.7,234.5 550.8,235.3 551.2,235.3 549.6,234.6 540.6,244.9 540.4,246.1 542.5,244.6 533.9,245.9 545.2,250.9 554.7,251.0 553.7,250.3 550.6,257.0 550.3,254.4 561.6,193.3 576.4,209.8 577.5,211.1 578.2,238.6 581.9,238.7 585.2,242.2 585.4,247.4 588.3,246.8 587.3,244.7 589.7,239.5 590.9,240.0 592.6,235.6 593.2,251.9 592.6,253.4 582.2,254.7 581.8,253.0 583.2,255.4 585.6,257.7 592.9,258.4 594.4,259.7 600.7,250.5 601.4,252.6 609.2,254.1 609.9,251.7 613.3,244.4 614.6,243.2 615.6,245.5 620.5,232.2 621.6,237.5 624.8,226.1 626.8,225.1 627.4,211.5 624.1,214.0 622.5,205.9 625.4,206.4 621.9,205.2 616.1,204.7 599.0,191.8 596.2,191.5 597.9,194.3 600.3,187.6 599.3,189.2 597.1,183.7 603.8,176.5 601.9,172.3 609.7,183.9 592.6,173.3 590.1,171.2 592.1,170.6 594.6,176.0 617.4,246.5 616.1,247.2 582.8,263.7 590.2,261.7 591.8,264.8"/>
</g>
</g>
<g clip-path="url(#c0)">
<path d="M34.7 351.4V459.3H148.0" fill="none" stroke="#333333" stroke-width="0.85"/>
<path d="M53.40 459.3v3.1M86.50 459.3v3.1M119.60 459.3v3.1M34.7 453.90h-3.1M34.7 430.02h-3.1M34.7 406.15h-3.1M34.7 382.27h-3.1M34.7 358.40h-3.1" stroke="#333333" stroke-width="0.8"/>
<text x="53.4" y="470.5" font-size="7.59" text-anchor="middle" font-family="Liberation Sans" fill="#1e1e1e" textLength="16.8" lengthAdjust="spacingAndGlyphs">−0.5</text>
<text x="86.5" y="470.5" font-size="7.59" text-anchor="middle" font-family="Liberation Sans" fill="#1e1e1e" textLength="11.0" lengthAdjust="spacingAndGlyphs">0.0</text>
<text x="119.6" y="470.5" font-size="7.59" text-anchor="middle" font-family="Liberation Sans" fill="#1e1e1e" textLength="11.0" lengthAdjust="spacingAndGlyphs">0.5</text>
<text x="28.6" y="456.4" font-size="7.59" text-anchor="end" font-family="Liberation Sans" fill="#1e1e1e" textLength="16.8" lengthAdjust="spacingAndGlyphs">−1.0</text>
<text x="28.6" y="432.5" font-size="7.59" text-anchor="end" font-family="Liberation Sans" fill="#1e1e1e" textLength="16.8" lengthAdjust="spacingAndGlyphs">−0.5</text>
<text x="28.6" y="408.6" font-size="7.59" text-anchor="end" font-family="Liberation Sans" fill="#1e1e1e" textLength="11.0" lengthAdjust="spacingAndGlyphs">0.0</text>
<text x="28.6" y="384.8" font-size="7.59" text-anchor="end" font-family="Liberation Sans" fill="#1e1e1e" textLength="11.0" lengthAdjust="spacingAndGlyphs">0.5</text>
<text x="28.6" y="360.9" font-size="7.59" text-anchor="end" font-family="Liberation Sans" fill="#1e1e1e" textLength="11.0" lengthAdjust="spacingAndGlyphs">1.0</text>
<text x="91.3" y="347.8" font-size="9.33" text-anchor="middle" font-family="Liberation Sans" fill="#1e1e1e" textLength="49.8" lengthAdjust="spacingAndGlyphs">PCA Result</text>
<text x="91.3" y="481.2" font-size="7.85" text-anchor="middle" font-family="Liberation Sans" fill="#1e1e1e" textLength="57.9" lengthAdjust="spacingAndGlyphs">1st Component</text>
<text transform="translate(5.9 405.4) rotate(-90)" font-size="7.85" text-anchor="middle" font-family="Liberation Sans" fill="#1e1e1e" textLength="60.6" lengthAdjust="spacingAndGlyphs">2nd Component</text>
<g filter="url(#bl)">
<polyline class="mp" points="40.6,358.2 42.7,359.3 45.5,359.4 44.9,355.5 46.7,359.1 45.0,361.1 40.7,355.5 41.2,357.5 43.8,360.7 40.8,357.6 43.2,356.3 44.5,360.6 44.9,358.7 46.2,356.3 46.5,360.5 42.2,360.6 44.1,361.5 41.0,356.6 43.5,361.3 46.0,361.9"/>
<polyline class="mo" points="41.5,356.6 40.5,355.0"/>
<polyline class="mx" points="45.2,359.4 45.2,359.4"/>
<polyline class="mp" points="76.3,405.2 74.2,407.9 73.7,405.2 78.6,405.9 75.5,405.3 71.4,406.9 74.4,406.0 80.6,406.2 85.2,400.0 83.1,401.9 85.8,402.7 83.5,402.2 85.2,401.7 81.1,404.3 83.4,411.1 81.5,406.8 81.6,407.4 82.6,411.5 81.1,410.5 82.8,413.6"/>
<polyline class="mo" points="78.0,405.5 86.0,400.0"/>
<polyline class="mx" points="76.2,405.9 84.2,402.9 83.7,412.2"/>
<polyline class="mp" points="140.6,407.9 132.2,407.5 143.3,404.4 135.7,404.3 129.2,404.8 135.7,403.5 123.3,402.9 138.6,404.3 135.2,404.9 135.9,404.8 130.9,402.5 133.9,406.6 125.4,404.0 143.9,406.0 139.1,405.1 142.8,403.8"/>
<polyline class="mo" points="127.0,403.0 134.0,409.0 143.0,405.0"/>
<polyline class="mx" points="130.0,405.7 137.5,405.7"/>
<polyline class="mp" points="38.7,451.9 39.4,452.5 42.1,451.4 43.6,447.8 44.3,452.1 44.0,453.8 42.8,448.3 43.7,450.9 47.9,451.7 45.3,449.2 45.1,452.9 43.0,454.1 47.4,447.6 43.9,449.1 44.6,449.4 38.7,452.4 42.1,448.9 41.8,450.0 42.1,452.2 46.5,448.7"/>
<polyline class="mo" points="40.0,453.0 47.0,448.0"/>
<polyline class="mx" points="44.9,450.7 44.9,450.7"/>
</g>
</g>
<g clip-path="url(#c1)">
<path d="M198.7 351.4V459.3H311.6" fill="none" stroke="#333333" stroke-width="0.85"/>
<path d="M220.90 459.3v3.1M251.90 459.3v3.1M282.90 459.3v3.1M198.7 456.50h-3.1M198.7 432.18h-3.1M198.7 407.85h-3.1M198.7 383.53h-3.1M198.7 359.20h-3.1" stroke="#333333" stroke-width="0.8"/>
<text x="220.9" y="470.5" font-size="7.59" text-anchor="middle" font-family="Liberation Sans" fill="#1e1e1e" textLength="16.8" lengthAdjust="spacingAndGlyphs">−0.5</text>
<text x="251.9" y="470.5" font-size="7.59" text-anchor="middle" font-family="Liberation Sans" fill="#1e1e1e" textLength="11.0" lengthAdjust="spacingAndGlyphs">0.0</text>
<text x="282.9" y="470.5" font-size="7.59" text-anchor="middle" font-family="Liberation Sans" fill="#1e1e1e" textLength="11.0" lengthAdjust="spacingAndGlyphs">0.5</text>
<text x="192.5" y="459.0" font-size="7.59" text-anchor="end" font-family="Liberation Sans" fill="#1e1e1e" textLength="16.8" lengthAdjust="spacingAndGlyphs">−1.0</text>
<text x="192.5" y="434.7" font-size="7.59" text-anchor="end" font-family="Liberation Sans" fill="#1e1e1e" textLength="16.8" lengthAdjust="spacingAndGlyphs">−0.5</text>
<text x="192.5" y="410.4" font-size="7.59" text-anchor="end" font-family="Liberation Sans" fill="#1e1e1e" textLength="11.0" lengthAdjust="spacingAndGlyphs">0.0</text>
<text x="192.5" y="386.0" font-size="7.59" text-anchor="end" font-family="Liberation Sans" fill="#1e1e1e" textLength="11.0" lengthAdjust="spacingAndGlyphs">0.5</text>
<text x="192.5" y="361.7" font-size="7.59" text-anchor="end" font-family="Liberation Sans" fill="#1e1e1e" textLength="11.0" lengthAdjust="spacingAndGlyphs">1.0</text>
<text x="255.2" y="347.8" font-size="9.33" text-anchor="middle" font-family="Liberation Sans" fill="#1e1e1e" textLength="49.8" lengthAdjust="spacingAndGlyphs">PCA Result</text>
<text x="255.2" y="481.2" font-size="7.85" text-anchor="middle" font-family="Liberation Sans" fill="#1e1e1e" textLength="57.9" lengthAdjust="spacingAndGlyphs">1st Component</text>
<text transform="translate(169.9 405.4) rotate(-90)" font-size="7.85" text-anchor="middle" font-family="Liberation Sans" fill="#1e1e1e" textLength="60.6" lengthAdjust="spacingAndGlyphs">2nd Component</text>
<g filter="url(#bl)">
<polyline class="mp" points="222.7,357.3 216.4,361.9 215.7,361.8 219.2,361.3 220.2,355.7 213.0,358.1 218.3,362.6 217.7,359.0 215.6,358.3 223.2,358.1 217.6,356.1 218.6,361.1 220.2,357.5 214.3,357.9 219.7,359.2 218.7,361.8 213.4,359.7 222.3,358.7"/>
<polyline class="mx" points="214.9,358.4 217.7,359.0 220.5,359.0"/>
<polyline class="mp" points="239.0,408.0 246.0,406.0 250.0,402.0 251.0,410.0 244.0,409.0 253.0,412.0"/>
<polyline class="mx" points="240.8,407.8 244.9,408.1 248.2,407.2 250.1,403.4 252.0,411.5"/>
<polyline class="mp" points="303.3,402.8 300.4,402.5 302.3,402.1 299.2,402.6 304.0,403.0 305.3,404.7 300.6,403.7 305.9,402.6 306.3,400.9 300.4,400.5 302.6,401.3 299.9,403.2 303.9,401.6 302.0,403.0 303.9,400.0"/>
<polyline class="mx" points="301.1,402.5 304.5,404.4"/>
<polyline class="mp" points="296.3,419.0 297.2,417.8 290.5,417.9 287.2,425.8 290.3,423.4 290.6,422.6 290.8,420.0 289.0,423.2"/>
<polyline class="mx" points="290.8,423.1 293.6,420.9 296.4,419.0 292.0,421.0"/>
<polyline class="mp" points="202.7,454.0 209.0,450.0"/>
<polyline class="mx" points="204.6,452.8 207.4,451.2"/>
</g>
</g>
<g clip-path="url(#c2)">
<path d="M362.6 351.4V459.3H476.3" fill="none" stroke="#333333" stroke-width="0.85"/>
<path d="M384.30 459.3v3.1M416.20 459.3v3.1M448.10 459.3v3.1M362.6 454.10h-3.1M362.6 430.18h-3.1M362.6 406.25h-3.1M362.6 382.32h-3.1M362.6 358.40h-3.1" stroke="#333333" stroke-width="0.8"/>
<text x="384.3" y="470.5" font-size="7.59" text-anchor="middle" font-family="Liberation Sans" fill="#1e1e1e" textLength="16.8" lengthAdjust="spacingAndGlyphs">−0.5</text>
<text x="416.2" y="470.5" font-size="7.59" text-anchor="middle" font-family="Liberation Sans" fill="#1e1e1e" textLength="11.0" lengthAdjust="spacingAndGlyphs">0.0</text>
<text x="448.1" y="470.5" font-size="7.59" text-anchor="middle" font-family="Liberation Sans" fill="#1e1e1e" textLength="11.0" lengthAdjust="spacingAndGlyphs">0.5</text>
<text x="356.4" y="456.6" font-size="7.59" text-anchor="end" font-family="Liberation Sans" fill="#1e1e1e" textLength="16.8" lengthAdjust="spacingAndGlyphs">−1.0</text>
<text x="356.4" y="432.7" font-size="7.59" text-anchor="end" font-family="Liberation Sans" fill="#1e1e1e" textLength="16.8" lengthAdjust="spacingAndGlyphs">−0.5</text>
<text x="356.4" y="408.8" font-size="7.59" text-anchor="end" font-family="Liberation Sans" fill="#1e1e1e" textLength="11.0" lengthAdjust="spacingAndGlyphs">0.0</text>
<text x="356.4" y="384.8" font-size="7.59" text-anchor="end" font-family="Liberation Sans" fill="#1e1e1e" textLength="11.0" lengthAdjust="spacingAndGlyphs">0.5</text>
<text x="356.4" y="360.9" font-size="7.59" text-anchor="end" font-family="Liberation Sans" fill="#1e1e1e" textLength="11.0" lengthAdjust="spacingAndGlyphs">1.0</text>
<text x="419.5" y="347.8" font-size="9.33" text-anchor="middle" font-family="Liberation Sans" fill="#1e1e1e" textLength="49.8" lengthAdjust="spacingAndGlyphs">PCA Result</text>
<text x="419.5" y="481.2" font-size="7.85" text-anchor="middle" font-family="Liberation Sans" fill="#1e1e1e" textLength="57.9" lengthAdjust="spacingAndGlyphs">1st Component</text>
<text transform="translate(333.8 405.4) rotate(-90)" font-size="7.85" text-anchor="middle" font-family="Liberation Sans" fill="#1e1e1e" textLength="60.6" lengthAdjust="spacingAndGlyphs">2nd Component</text>
<g filter="url(#bl)">
<polyline class="mp" points="376.9,363.1 374.0,360.0 381.0,361.0"/>
<polyline class="mx" points="381.8,358.9 382.6,359.3 378.4,355.0 377.6,356.8 373.3,358.4 375.8,357.0 378.4,358.1 377.4,359.7 374.7,362.9 376.9,358.4 404.0,405.9 406.0,405.9 410.6,405.9 414.4,400.2 414.4,409.0 415.9,411.5 412.0,407.0"/>
<polyline class="mp" points="464.3,399.8 466.2,401.1 463.9,399.1 466.4,398.9 468.3,400.8 460.5,399.5 464.2,403.0 460.4,400.0 464.5,402.1 461.1,402.1 461.2,400.4 465.2,399.0 468.7,403.3 463.4,400.7"/>
<polyline class="mx" points="466.9,403.4 463.0,402.0"/>
<polyline class="mp" points="460.3,418.4 456.0,417.0"/>
<polyline class="mx" points="461.8,413.5 463.2,415.2 457.3,411.9 459.5,413.1 465.1,412.8 465.5,412.3 458.2,413.4 460.8,418.0 461.2,413.4"/>
<polyline class="mp" points="376.0,448.4 376.0,448.4"/>
<polyline class="mx" points="372.5,450.4 375.5,450.7 375.7,449.8 374.3,449.6 375.0,448.4 377.0,448.7 376.7,450.3 374.1,451.0"/>
</g>
</g>
<g clip-path="url(#c3)">
<path d="M526.5 351.4V459.3H640.0" fill="none" stroke="#333333" stroke-width="0.85"/>
<path d="M544.00 459.3v3.1M577.10 459.3v3.1M610.20 459.3v3.1M526.5 452.50h-3.1M526.5 429.05h-3.1M526.5 405.60h-3.1M526.5 382.15h-3.1M526.5 358.70h-3.1" stroke="#333333" stroke-width="0.8"/>
<text x="544.0" y="470.5" font-size="7.59" text-anchor="middle" font-family="Liberation Sans" fill="#1e1e1e" textLength="16.8" lengthAdjust="spacingAndGlyphs">−0.5</text>
<text x="577.1" y="470.5" font-size="7.59" text-anchor="middle" font-family="Liberation Sans" fill="#1e1e1e" textLength="11.0" lengthAdjust="spacingAndGlyphs">0.0</text>
<text x="610.2" y="470.5" font-size="7.59" text-anchor="middle" font-family="Liberation Sans" fill="#1e1e1e" textLength="11.0" lengthAdjust="spacingAndGlyphs">0.5</text>
<text x="520.4" y="455.0" font-size="7.59" text-anchor="end" font-family="Liberation Sans" fill="#1e1e1e" textLength="16.8" lengthAdjust="spacingAndGlyphs">−1.0</text>
<text x="520.4" y="431.6" font-size="7.59" text-anchor="end" font-family="Liberation Sans" fill="#1e1e1e" textLength="16.8" lengthAdjust="spacingAndGlyphs">−0.5</text>
<text x="520.4" y="408.1" font-size="7.59" text-anchor="end" font-family="Liberation Sans" fill="#1e1e1e" textLength="11.0" lengthAdjust="spacingAndGlyphs">0.0</text>
<text x="520.4" y="384.7" font-size="7.59" text-anchor="end" font-family="Liberation Sans" fill="#1e1e1e" textLength="11.0" lengthAdjust="spacingAndGlyphs">0.5</text>
<text x="520.4" y="361.2" font-size="7.59" text-anchor="end" font-family="Liberation Sans" fill="#1e1e1e" textLength="11.0" lengthAdjust="spacingAndGlyphs">1.0</text>
<text x="583.2" y="347.8" font-size="9.33" text-anchor="middle" font-family="Liberation Sans" fill="#1e1e1e" textLength="49.8" lengthAdjust="spacingAndGlyphs">PCA Result</text>
<text x="583.2" y="481.2" font-size="7.85" text-anchor="middle" font-family="Liberation Sans" fill="#1e1e1e" textLength="57.9" lengthAdjust="spacingAndGlyphs">1st Component</text>
<text transform="translate(497.7 405.4) rotate(-90)" font-size="7.85" text-anchor="middle" font-family="Liberation Sans" fill="#1e1e1e" textLength="60.6" lengthAdjust="spacingAndGlyphs">2nd Component</text>
<g filter="url(#bl)">
<polyline class="mp" points="530.9,354.7 539.7,362.2"/>
<polyline class="my" points="537.5,361.2 535.7,359.1 537.9,360.5 536.0,360.3 534.9,358.8"/>
<polyline class="mx" points="531.2,357.5 534.0,359.4 536.9,360.7 538.8,361.2 533.0,358.0 564.0,405.3 569.1,405.3 574.0,404.9 576.2,401.6 578.5,399.7 575.3,411.5"/>
<polyline class="mp" points="626.0,409.0 626.0,409.0"/>
<polyline class="my" points="618.0,400.2 629.0,403.4 626.3,400.7 628.8,403.4 631.4,404.8 617.6,400.3"/>
<polyline class="mx" points="618.4,399.7 621.0,401.0 625.0,402.5 628.8,406.2 633.4,405.3 631.0,405.0 532.7,452.5 532.4,453.6 535.6,453.9 536.5,455.9 533.4,449.5 534.0,450.2 535.7,452.3 532.8,454.9"/>
</g>
</g>
<g clip-path="url(#c0)">
<path d="M34.7 500.4V608.6H148.0" fill="none" stroke="#333333" stroke-width="0.85"/>
<path d="M60.10 608.6v3.1M94.50 608.6v3.1M128.90 608.6v3.1M34.7 601.60h-3.1M34.7 585.12h-3.1M34.7 568.63h-3.1M34.7 552.15h-3.1M34.7 535.67h-3.1M34.7 519.18h-3.1M34.7 502.70h-3.1" stroke="#333333" stroke-width="0.8"/>
<text x="60.1" y="619.8" font-size="7.59" text-anchor="middle" font-family="Liberation Sans" fill="#1e1e1e" textLength="14.6" lengthAdjust="spacingAndGlyphs">−50</text>
<text x="94.5" y="619.8" font-size="7.59" text-anchor="middle" font-family="Liberation Sans" fill="#1e1e1e" textLength="4.4" lengthAdjust="spacingAndGlyphs">0</text>
<text x="128.9" y="619.8" font-size="7.59" text-anchor="middle" font-family="Liberation Sans" fill="#1e1e1e" textLength="8.8" lengthAdjust="spacingAndGlyphs">50</text>
<text x="28.6" y="604.1" font-size="7.59" text-anchor="end" font-family="Liberation Sans" fill="#1e1e1e" textLength="14.6" lengthAdjust="spacingAndGlyphs">−75</text>
<text x="28.6" y="587.6" font-size="7.59" text-anchor="end" font-family="Liberation Sans" fill="#1e1e1e" textLength="14.6" lengthAdjust="spacingAndGlyphs">−50</text>
<text x="28.6" y="571.1" font-size="7.59" text-anchor="end" font-family="Liberation Sans" fill="#1e1e1e" textLength="14.6" lengthAdjust="spacingAndGlyphs">−25</text>
<text x="28.6" y="554.6" font-size="7.59" text-anchor="end" font-family="Liberation Sans" fill="#1e1e1e" textLength="4.4" lengthAdjust="spacingAndGlyphs">0</text>
<text x="28.6" y="538.2" font-size="7.59" text-anchor="end" font-family="Liberation Sans" fill="#1e1e1e" textLength="8.8" lengthAdjust="spacingAndGlyphs">25</text>
<text x="28.6" y="521.7" font-size="7.59" text-anchor="end" font-family="Liberation Sans" fill="#1e1e1e" textLength="8.8" lengthAdjust="spacingAndGlyphs">50</text>
<text x="28.6" y="505.2" font-size="7.59" text-anchor="end" font-family="Liberation Sans" fill="#1e1e1e" textLength="8.8" lengthAdjust="spacingAndGlyphs">75</text>
<text x="91.3" y="496.5" font-size="9.33" text-anchor="middle" font-family="Liberation Sans" fill="#1e1e1e" textLength="56.9" lengthAdjust="spacingAndGlyphs">t-SNE Result</text>
<text x="91.3" y="630.8" font-size="7.85" text-anchor="middle" font-family="Liberation Sans" fill="#1e1e1e" textLength="5.2" lengthAdjust="spacingAndGlyphs">X</text>
<text transform="translate(8.1 554.5) rotate(-90)" font-size="7.85" text-anchor="middle" font-family="Liberation Sans" fill="#1e1e1e" textLength="4.6" lengthAdjust="spacingAndGlyphs">Y</text>
<g filter="url(#bl)">
<path d="M65.9 513.8L55.6 524.1L47.0 534.4L41.0 546.4L38.4 558.4L40.2 572.2L47.0 585.1L57.3 595.4L71.1 602.8L86.6 606.2L100.3 605.2L112.3 600.6L124.4 592.8L133.0 584.2L131.3 580.8L120.9 585.9L107.2 592.0L93.4 590.2L84.8 584.2L78.0 575.6L71.1 567.0L62.5 559.3L53.9 551.6L52.2 539.5L57.3 527.5L67.7 515.5Z" fill="#fdcfae" fill-opacity="1.00"/>
<polyline class="my" points="53.2,585.2 70.0,568.0 51.9,565.1 84.3,592.0 63.8,594.6 71.6,592.0 98.3,596.7 40.6,554.9 101.6,598.9 68.4,596.5 58.6,595.2 85.0,589.4 72.7,582.3 72.6,579.5 113.0,592.7 48.8,558.7 46.7,545.1 50.3,569.0 53.0,559.7 56.1,590.3 48.9,577.6 126.1,589.2 84.2,604.1 67.3,569.3 59.6,591.5 42.1,562.5 62.9,580.1 46.7,580.4 61.2,569.8 47.0,539.5 93.2,594.2 47.0,560.7 45.4,551.1 53.5,572.3 75.9,580.0 58.1,573.8 123.5,587.7 53.3,569.1 89.2,603.8 66.2,574.5 91.9,601.3 59.9,582.7 79.5,580.5 52.2,547.3 72.6,595.6 69.7,576.7 106.5,597.4 54.7,574.8 76.4,584.4 65.3,582.0 50.0,581.0 56.6,555.7 57.6,585.2 49.7,555.4 46.3,557.4 87.0,602.0 55.9,579.9 48.5,547.2 43.2,568.2 52.1,532.2 108.1,592.5 48.4,535.2 62.9,518.9 95.4,592.1 65.1,587.3 52.8,552.5 104.2,593.2 74.8,575.6 65.4,597.6 58.1,571.0 62.3,586.7 50.5,541.3 96.0,598.7 78.1,601.9 71.9,588.8 57.0,567.7 59.9,558.3 62.1,562.2 79.9,595.6 66.7,593.6 56.8,562.9 48.7,564.8 63.6,575.6 47.5,570.3 54.5,528.7 47.1,572.9 51.7,574.5 44.7,541.8 63.1,572.0 112.4,597.8 58.7,523.1 63.4,566.0 87.8,595.3 61.7,596.9 40.3,568.4 97.3,603.1 42.2,559.7 82.6,583.8 56.4,526.3 87.7,592.0 49.4,586.3 105.6,601.2 62.8,589.6 83.5,586.7 101.3,593.7 68.1,565.4 43.4,572.9 72.6,598.4 117.8,591.7 126.6,584.5 56.5,559.2 69.1,583.0 69.9,598.7 121.5,592.0 83.7,600.9 80.9,590.8 61.4,577.7 92.0,604.5 66.1,515.8 72.5,602.1 81.9,593.4 79.3,584.0 74.5,592.4 75.5,589.7 47.6,553.3 102.7,601.8 74.7,600.2 65.6,578.9 49.8,549.6 82.5,596.4 88.9,599.9 73.1,570.9 50.7,583.8 91.9,596.8 40.2,564.6 117.2,596.0 53.5,589.3 64.3,569.4 77.3,592.4 42.8,547.9 80.6,598.7 95.9,595.3 84.8,598.1 58.1,588.1 119.5,588.3 57.5,577.6 64.7,562.8 128.9,587.4 98.8,599.9 70.6,585.4 78.6,586.7 49.5,543.8 56.3,593.5 46.2,576.1 78.1,597.6 45.9,564.5 69.1,573.9 65.5,590.6 68.5,590.1 53.2,556.6 80.0,604.1 119.8,594.6 50.1,562.3 108.8,599.9 130.6,583.2 60.8,566.8 50.9,538.0 39.7,561.3 43.1,556.1 110.5,595.8 100.3,603.1 53.1,577.2 42.8,545.2 49.8,572.5 68.2,586.9 90.9,592.8 102.8,596.2 59.0,580.0 87.6,588.2 69.6,571.0 91.3,589.5 55.3,565.1 53.5,582.1 42.6,551.2 75.9,595.8 59.3,564.1 77.6,576.5 75.4,602.9 62.7,583.7 98.7,591.5 52.6,535.3 116.5,588.9 94.9,604.9 69.4,580.1 61.4,521.3 39.7,558.2 40.9,571.2 43.4,576.2 94.9,601.6 46.5,567.4 47.8,583.7 44.6,578.6 66.1,584.7 53.5,562.8 60.9,574.9 124.4,591.4 72.1,574.5 74.3,586.1 52.2,544.1 113.7,595.3 45.6,547.6 110.5,591.3 70.0,594.2 43.1,565.1 86.9,605.3 65.9,571.7 58.9,561.0 56.7,582.6 44.9,553.9 55.4,587.2 115.6,593.4 86.2,585.9 54.8,531.6 84.9,594.9 67.3,599.9 49.3,532.6 78.3,589.9 113.9,589.8 80.9,601.5 61.1,593.9 81.2,588.1"/>
<polyline class="mo" points="71.6,526.3 74.5,520.7 73.0,526.3 72.0,524.2 75.8,523.3 75.3,520.0 77.1,521.8 76.7,522.4 73.3,525.5 75.6,520.9 76.7,525.1 73.7,526.6 73.1,525.2 73.6,523.5 72.3,526.6 77.2,519.6 77.5,522.3 75.8,520.4 77.6,520.1 75.6,525.9 79.9,520.3 78.9,520.4 83.2,517.8 83.2,519.6 80.8,521.7 81.3,523.9 83.3,518.4 79.5,519.0 79.4,520.1 88.1,520.7 82.4,518.6 86.7,519.6 80.7,518.0 76.4,520.3 84.1,518.5 86.3,520.5 83.4,519.6 84.5,516.7 80.5,521.4 83.3,519.5 82.2,519.3 90.8,521.5 87.0,519.3 88.6,521.3 89.6,520.6 89.7,518.7 89.1,521.6 85.6,520.9 85.8,518.8 89.1,518.7 88.8,518.6 89.0,520.9 114.2,520.3 108.3,516.8 109.5,517.9 107.0,516.6 109.9,516.5 112.2,520.0 110.1,520.0 112.1,521.4 114.2,520.1 110.3,519.5 113.7,522.5 110.7,520.8 112.7,523.1 107.7,516.2 106.7,515.2 110.4,517.8 112.8,522.8 107.4,516.6 112.4,517.8 107.5,518.3 112.8,519.8 112.9,521.2 115.3,522.6 119.2,523.4 116.3,527.6 114.0,523.7 114.9,522.5 118.3,529.3 117.4,528.2 116.2,521.7 115.2,522.4 113.9,524.2 113.5,522.8 118.1,525.5 116.0,525.0 118.4,527.2 118.7,529.2 115.7,522.8 116.6,523.1 119.9,529.6 115.8,524.7 113.3,524.6 114.1,522.9 120.1,532.2 118.7,527.4 119.9,534.4 117.9,531.2 119.6,534.2 119.5,530.2 120.4,531.1 117.5,528.8 118.7,530.2 118.6,533.9 119.2,535.9 118.6,533.5 118.3,530.9 66.6,543.1 64.6,544.8 67.2,540.8 69.1,539.3 64.2,543.0 70.8,540.1 64.7,542.8 62.5,544.0 64.5,544.9 62.5,544.6 67.7,540.1 65.5,542.3 66.0,540.9 63.2,544.8 64.7,541.8 64.9,541.7 63.2,546.9 64.3,547.0 61.4,542.3 67.5,539.5 66.2,543.0 67.0,543.0 62.2,550.0 62.5,549.4 63.0,547.1 60.1,550.0 64.2,550.3 61.4,550.2 63.2,543.9 59.3,543.6 63.6,548.0 61.4,545.1 62.8,546.5 61.8,550.2 61.3,548.6 61.6,548.9 60.6,548.6 62.4,549.7 62.8,545.5 69.4,549.9 63.9,551.0 64.5,551.9 61.6,551.7 64.0,547.9 63.7,549.7 62.8,552.4 62.3,550.1 66.0,550.5 67.5,550.3 66.0,550.0 66.6,553.7 63.3,551.5 102.3,546.1 101.8,543.7 110.2,546.9 109.5,544.8 109.6,544.6 113.4,546.9 102.0,542.5 109.4,544.6 111.3,546.6 106.5,545.5 112.0,544.8 107.6,542.3 104.3,545.1 108.4,545.3 108.9,544.4 110.9,545.7 110.9,543.0 101.8,543.7 105.2,545.7 103.7,543.0 104.8,541.1 110.3,547.2 107.2,542.1 105.9,546.0 111.9,545.3 117.0,544.6 116.1,550.1 114.2,549.0 112.1,548.2 116.4,547.1 114.6,547.2 119.3,548.7 118.3,547.8 113.1,548.4 116.2,548.2 120.2,547.6 118.3,550.0 117.6,549.2 121.5,548.6 121.6,552.2 115.7,548.1 116.1,549.8 112.7,547.0 114.3,549.3 113.4,548.3 117.8,547.7 115.1,549.7 130.4,563.1 128.1,561.3 128.7,562.4 127.4,560.2 129.2,557.9 125.6,560.4 127.5,562.4 130.6,560.4 125.5,564.3 128.7,560.1 125.5,563.0 126.0,564.1 125.4,563.0 130.0,560.1 126.1,565.2 127.5,563.7 125.3,560.2 125.6,562.8 126.9,562.9 125.6,565.0 120.4,571.4 120.3,567.0 119.7,571.9 119.9,572.2 122.7,569.8 122.2,567.5 124.2,569.8 120.2,570.2 123.0,567.1 119.9,571.3 119.9,572.9 124.1,566.2 123.8,568.3 123.0,566.8 119.6,569.3 119.3,572.2 121.6,572.2 123.9,566.0 122.5,564.8 118.3,573.1 73.1,565.1 75.3,566.1 74.1,573.1 71.6,563.9 72.0,561.3 73.3,563.0 73.0,563.3 75.0,570.4 71.4,565.6 73.6,561.4 74.9,568.2 73.2,563.0 76.5,567.5 72.1,563.3 72.9,562.9 74.4,567.7 75.5,566.7 73.6,566.1 76.5,566.5 75.3,571.4 75.0,568.2 74.1,578.5 75.9,579.5 76.8,575.1 76.0,578.7 74.5,578.0 77.1,575.7 74.7,575.9 76.3,575.7 75.7,571.0 76.5,574.3 77.5,577.1 75.1,573.4 76.8,577.4 78.1,577.8 74.5,575.9 74.4,576.0 77.1,579.5 76.8,579.1 75.8,577.8 75.3,576.0 75.0,574.2 89.9,581.5 96.5,582.2 94.6,579.8 90.0,579.7 91.3,580.6 92.2,583.2 92.3,580.6 94.3,580.1 89.4,578.1 94.6,579.3 90.7,581.3 89.5,582.0 89.7,580.0 90.8,577.8 91.4,581.0 88.1,578.4 89.8,577.7 90.7,582.1 93.4,581.8 95.4,580.0 93.6,581.2 93.1,581.8 97.2,582.4 97.4,581.0 94.6,581.7 99.9,582.0 105.4,582.4 102.1,582.8 106.2,581.5 99.9,582.6 104.3,581.2 104.8,582.0 104.6,581.8 102.5,580.7 107.5,581.4 98.7,581.1 101.0,582.0 100.8,581.8 101.5,582.4 97.9,582.4 101.0,579.3 102.3,580.9 95.5,582.1 103.2,583.6 105.0,580.0 102.0,581.8"/>
<ellipse cx="85.7" cy="531.8" rx="5.7" ry="5.7" fill="#fdcfae" fill-opacity="1.00"/>
<polyline class="my" points="84.7,527.9 83.0,532.4 87.6,535.5 86.4,531.1 90.1,531.3 83.7,536.0 88.2,528.2"/>
<ellipse cx="104.6" cy="529.2" rx="5.7" ry="5.7" fill="#fdcfae" fill-opacity="1.00"/>
<polyline class="my" points="102.0,531.0 107.7,531.6 105.5,528.7 102.4,527.3 106.0,524.9 109.2,528.1 104.9,533.7"/>
<ellipse cx="76.3" cy="549.8" rx="6.2" ry="6.2" fill="#fdcfae" fill-opacity="1.00"/>
<polyline class="my" points="80.7,550.4 74.5,553.1 75.2,545.6 80.6,546.9 78.5,553.9 74.1,549.2 77.3,550.3 71.1,551.1"/>
<ellipse cx="96.9" cy="551.6" rx="6.2" ry="6.2" fill="#fdcfae" fill-opacity="1.00"/>
<polyline class="my" points="99.9,552.6 91.6,552.3 100.3,548.8 95.2,550.4 96.8,554.3 95.8,546.9 93.6,555.7"/>
<ellipse cx="114.1" cy="562.7" rx="6.2" ry="6.2" fill="#fdcfae" fill-opacity="1.00"/>
<polyline class="my" points="117.4,559.1 111.1,565.7 115.2,562.3 109.0,561.3 111.7,558.8 115.6,567.2 118.6,562.9"/>
<ellipse cx="93.4" cy="570.5" rx="5.7" ry="5.7" fill="#fdcfae" fill-opacity="1.00"/>
<polyline class="my" points="93.1,567.8 91.6,571.2 91.7,574.8 97.4,571.2 95.2,573.9 97.0,567.8 89.2,568.8"/>
<polyline class="mx" points="71.1,509.5 78.0,506.9 83.1,506.0 91.7,505.2 98.6,506.9 103.8,507.7 107.2,507.7 116.6,508.6 98.6,511.2 101.2,512.0 86.6,506.9 95.2,506.0 132.1,520.6 135.6,530.1 136.4,534.4 134.7,541.3 138.1,546.4 139.8,551.6 142.4,558.4 142.4,566.2 138.1,573.9 133.8,579.1 129.5,584.2 126.1,585.9 65.9,516.3 61.6,518.9 59.1,521.5 133.0,539.5 136.4,543.0 138.1,549.8 133.8,544.7 132.1,537.0"/>
</g>
</g>
<g clip-path="url(#c1)">
<path d="M198.7 500.4V608.6H312.2" fill="none" stroke="#333333" stroke-width="0.85"/>
<path d="M220.90 608.6v3.1M252.95 608.6v3.1M285.00 608.6v3.1M198.7 585.40h-3.1M198.7 557.15h-3.1M198.7 528.90h-3.1" stroke="#333333" stroke-width="0.8"/>
<text x="220.9" y="619.8" font-size="7.59" text-anchor="middle" font-family="Liberation Sans" fill="#1e1e1e" textLength="14.6" lengthAdjust="spacingAndGlyphs">−50</text>
<text x="252.9" y="619.8" font-size="7.59" text-anchor="middle" font-family="Liberation Sans" fill="#1e1e1e" textLength="4.4" lengthAdjust="spacingAndGlyphs">0</text>
<text x="285.0" y="619.8" font-size="7.59" text-anchor="middle" font-family="Liberation Sans" fill="#1e1e1e" textLength="8.8" lengthAdjust="spacingAndGlyphs">50</text>
<text x="192.5" y="587.9" font-size="7.59" text-anchor="end" font-family="Liberation Sans" fill="#1e1e1e" textLength="14.6" lengthAdjust="spacingAndGlyphs">−50</text>
<text x="192.5" y="559.6" font-size="7.59" text-anchor="end" font-family="Liberation Sans" fill="#1e1e1e" textLength="4.4" lengthAdjust="spacingAndGlyphs">0</text>
<text x="192.5" y="531.4" font-size="7.59" text-anchor="end" font-family="Liberation Sans" fill="#1e1e1e" textLength="8.8" lengthAdjust="spacingAndGlyphs">50</text>
<text x="255.4" y="496.5" font-size="9.33" text-anchor="middle" font-family="Liberation Sans" fill="#1e1e1e" textLength="56.9" lengthAdjust="spacingAndGlyphs">t-SNE Result</text>
<text x="255.4" y="630.8" font-size="7.85" text-anchor="middle" font-family="Liberation Sans" fill="#1e1e1e" textLength="5.2" lengthAdjust="spacingAndGlyphs">X</text>
<text transform="translate(172.1 554.5) rotate(-90)" font-size="7.85" text-anchor="middle" font-family="Liberation Sans" fill="#1e1e1e" textLength="4.6" lengthAdjust="spacingAndGlyphs">Y</text>
<g filter="url(#bl)">
<polyline class="mq" points="242.3,517.3 251.6,512.8 241.4,514.1 242.2,532.8 247.9,509.3 250.4,526.7 249.5,521.7 234.4,518.7 247.8,535.8 239.4,524.7 250.3,517.3 242.7,520.8 245.9,523.6 231.8,523.5 252.2,506.4 242.5,527.9 238.1,533.8 248.4,512.7 255.9,529.3 230.0,520.0 252.2,531.1 235.5,515.1 250.9,534.0 246.4,516.8 236.3,531.1 247.4,532.0 235.1,525.7 244.4,510.8 246.1,529.0 233.0,528.9 253.4,515.9 237.8,518.9 239.0,529.4 231.3,516.9 254.7,536.2 244.2,535.5 238.4,512.5 253.6,520.7 236.1,521.6 255.6,532.8 252.0,523.5 253.6,526.4 251.3,509.6 242.5,524.0 228.7,523.5 246.0,519.9 241.0,510.8 230.5,526.5 245.0,513.9 239.6,521.5 238.6,515.7 240.6,535.6 249.4,529.6 271.3,539.8 278.0,533.5 277.0,518.7 281.8,528.0 271.0,520.4 276.5,538.7 285.9,531.5 282.6,540.6 273.9,524.4 270.5,531.6 265.1,531.5 280.6,535.6 279.0,522.4 276.8,528.9 268.3,538.4 274.7,543.3 270.0,513.4 262.3,538.1 267.8,527.8 274.5,516.0 274.5,533.4 283.6,534.5 269.8,543.2 282.1,523.9 284.7,537.8 269.1,517.8 278.6,526.0 284.9,526.9 265.3,544.5 266.7,534.5 274.6,520.9 265.1,541.2 267.9,521.0 270.3,535.4 270.1,523.9 279.7,542.0 279.6,530.8 273.4,528.3 263.6,534.7 273.2,512.9 273.5,536.8 266.9,524.5 279.7,538.9 267.3,511.8 285.1,523.0 286.8,534.8 265.4,537.3 282.7,531.2 267.4,515.1 238.0,543.8 204.9,536.9 241.2,549.3 222.6,549.1 232.4,542.7 215.5,535.2 216.4,541.9 223.4,545.8 208.2,542.1 222.6,539.5 212.0,536.6 229.8,545.5 227.0,547.9 218.9,545.8 240.9,545.6 244.5,551.9 246.0,547.7 231.8,549.2 238.2,547.4 212.9,540.8 208.3,535.4 229.1,551.4 216.2,538.6 226.0,544.0 235.9,550.2 243.7,543.4 204.5,540.6 216.7,548.2 238.8,552.0 212.5,544.0 208.8,538.6 222.5,542.8 219.1,535.3 210.5,546.5 227.2,541.0 219.5,539.1 233.9,546.5 215.9,545.0 249.2,549.9 206.4,545.0 233.4,552.3 225.4,550.7 213.6,547.5 241.7,553.2 304.5,545.6 304.6,549.0 281.7,560.0 300.4,548.5 301.7,558.4 289.8,548.3 285.5,550.6 301.6,553.0 285.8,564.4 294.5,553.7 298.4,560.1 287.9,572.4 299.0,565.3 292.2,551.4 279.6,566.2 298.4,570.2 289.0,565.1 284.6,555.5 291.4,569.8 281.3,570.0 286.7,559.2 279.2,558.1 292.2,559.3 279.3,554.2 292.7,564.6 297.6,554.6 297.2,549.0 294.1,574.9 288.3,553.9 285.8,574.8 304.8,554.7 284.3,567.3 293.2,548.2 282.6,575.5 296.5,563.0 295.7,567.1 289.7,557.3 298.5,546.0 294.2,571.5 283.8,572.2 302.0,562.1 294.5,557.2 290.6,574.9 279.1,562.3 298.3,573.6 289.8,562.0 287.6,568.9 282.5,563.1 282.7,552.2 301.5,544.8 291.6,554.9 295.2,545.8 298.9,551.6 218.3,572.0 215.4,562.6 226.0,574.2 224.9,578.6 222.3,560.8 212.6,573.0 230.3,563.0 226.9,567.1 204.9,568.0 211.1,580.7 223.7,582.1 209.4,572.9 216.0,585.2 207.8,579.9 222.3,571.6 218.3,579.5 229.4,570.4 218.7,565.8 205.4,563.4 217.3,568.9 213.4,569.4 210.7,564.3 226.1,561.8 221.4,576.7 208.0,566.0 220.6,585.7 211.9,577.3 229.7,573.8 226.4,583.8 221.9,565.9 216.0,576.6 228.6,579.1 208.6,576.5 213.0,583.9 218.1,582.7 218.2,589.0 231.2,567.0 206.3,571.7 210.1,569.0 214.3,579.8 213.6,565.7 219.6,562.6 212.2,561.1 224.9,569.6 213.6,587.2 205.8,575.2 224.8,564.6 208.6,562.0 220.4,569.1 223.7,585.9 209.9,583.6 221.5,579.8 232.2,571.9 247.5,571.8 259.7,568.8 265.3,569.0 261.6,553.7 246.4,566.5 266.6,562.8 262.6,558.1 240.3,569.2 256.1,568.8 256.6,561.7 256.3,577.8 264.6,555.0 252.5,568.1 252.8,560.5 258.9,558.8 256.9,556.4 254.7,565.7 263.5,562.6 256.7,572.9 266.4,558.7 251.2,564.1 251.0,573.3 262.6,574.2 244.3,572.6 240.9,574.3 251.2,576.5 260.5,563.9 244.0,569.1 266.3,572.0 247.4,576.9 247.3,563.0 266.7,552.1 259.5,574.2 253.9,571.0 262.5,566.9 266.7,565.9 262.1,571.1 254.1,574.8 242.5,565.8 243.8,577.2 249.9,569.7 249.8,561.0 257.8,565.6 251.0,590.8 241.0,594.3 271.7,593.5 257.5,586.4 265.9,591.8 275.1,592.6 280.1,585.2 264.0,596.3 276.1,585.1 266.0,587.5 245.2,590.0 246.2,597.6 279.8,592.3 259.3,596.9 255.1,588.8 250.9,597.7 255.1,599.7 257.3,592.4 241.7,589.8 268.7,595.1 260.5,587.8 276.8,589.6 271.5,584.4 246.6,600.9 270.5,589.7 246.2,593.1 255.4,596.1 241.7,597.4 252.1,600.7 254.1,585.3 262.1,590.5 248.0,587.9 282.2,588.9 248.9,594.8 260.5,593.6 272.6,587.3 250.6,586.0 254.0,591.9 243.1,600.4 262.8,585.7 267.8,584.9 258.3,600.3 262.0,599.1 252.1,594.4 249.4,602.4 283.2,586.0 244.0,595.3"/>
<ellipse cx="236.8" cy="524.1" rx="7.3" ry="9.0" fill="#fdcfae" fill-opacity="0.90"/>
<ellipse cx="248.8" cy="510.3" rx="4.1" ry="4.9" fill="#fdcfae" fill-opacity="0.90"/>
<ellipse cx="249.7" cy="528.4" rx="4.6" ry="8.2" fill="#fdcfae" fill-opacity="0.90"/>
<ellipse cx="272.0" cy="520.6" rx="4.6" ry="9.0" fill="#fdcfae" fill-opacity="0.90" transform="rotate(-20 272.0 520.6)"/>
<ellipse cx="281.5" cy="530.1" rx="5.2" ry="7.3" fill="#fdcfae" fill-opacity="0.90"/>
<ellipse cx="270.3" cy="539.5" rx="7.3" ry="5.2" fill="#fdcfae" fill-opacity="0.90"/>
<ellipse cx="210.2" cy="539.9" rx="6.5" ry="4.6" fill="#fdcfae" fill-opacity="0.90" transform="rotate(15 210.2 539.9)"/>
<ellipse cx="223.9" cy="543.8" rx="6.9" ry="4.6" fill="#fdcfae" fill-opacity="0.90" transform="rotate(20 223.9 543.8)"/>
<ellipse cx="239.4" cy="548.5" rx="7.3" ry="4.6" fill="#fdcfae" fill-opacity="0.90" transform="rotate(15 239.4 548.5)"/>
<ellipse cx="288.4" cy="555.9" rx="7.3" ry="6.2" fill="#fdcfae" fill-opacity="0.90"/>
<ellipse cx="301.8" cy="548.5" rx="4.6" ry="3.6" fill="#fdcfae" fill-opacity="0.90"/>
<ellipse cx="285.8" cy="572.2" rx="7.3" ry="4.6" fill="#fdcfae" fill-opacity="0.90"/>
<ellipse cx="300.4" cy="567.9" rx="3.6" ry="6.5" fill="#fdcfae" fill-opacity="0.90"/>
<ellipse cx="209.7" cy="568.8" rx="5.2" ry="9.0" fill="#fdcfae" fill-opacity="0.90"/>
<ellipse cx="224.8" cy="568.8" rx="6.2" ry="7.3" fill="#fdcfae" fill-opacity="0.90"/>
<ellipse cx="219.6" cy="583.9" rx="6.5" ry="5.7" fill="#fdcfae" fill-opacity="0.90"/>
<ellipse cx="247.1" cy="572.2" rx="8.2" ry="5.7" fill="#fdcfae" fill-opacity="0.90" transform="rotate(-20 247.1 572.2)"/>
<ellipse cx="261.2" cy="563.3" rx="6.5" ry="8.5" fill="#fdcfae" fill-opacity="0.90"/>
<ellipse cx="250.6" cy="594.2" rx="10.1" ry="6.2" fill="#fdcfae" fill-opacity="0.90" transform="rotate(-10 250.6 594.2)"/>
<ellipse cx="271.2" cy="589.0" rx="11.4" ry="3.9" fill="#fdcfae" fill-opacity="0.90" transform="rotate(-5 271.2 589.0)"/>
<polyline class="mx" points="275.2,541.2 204.1,567.2 229.2,569.4 263.6,590.3 305.9,546.9 257.0,598.2 220.1,587.7 246.7,534.3 264.9,562.7 267.7,585.6 299.7,548.3 244.2,545.8 261.5,569.7 218.6,565.4 232.8,531.6 233.1,550.6 232.4,544.4 246.2,526.0 220.8,570.7 268.7,514.3 249.4,575.0 210.3,562.7 240.1,517.4 281.7,552.9 293.1,569.5 251.5,519.3 258.0,568.8 286.5,561.1 248.9,597.3 230.8,572.7 285.0,574.9 265.7,558.7 226.4,539.9 245.5,572.5 250.2,535.9 296.5,571.4 255.3,566.0 292.2,558.3 210.7,572.9 247.2,590.8 241.7,575.5 281.9,556.7 227.8,549.4 225.5,564.9 291.0,554.2 224.9,585.5 256.5,590.4 220.3,547.1 285.9,524.4 281.5,587.1 250.1,529.9 272.5,519.7 212.3,541.4 237.1,551.2 236.8,534.1 261.9,564.7 239.1,521.1 230.2,563.0 258.0,556.0 211.1,534.9 240.1,528.0 225.6,579.5 288.8,574.1 275.7,584.6 282.2,530.8 209.6,543.9 287.7,569.1 270.5,536.6 261.7,560.9 249.2,515.0 280.4,525.4 247.5,549.3 267.3,519.5 227.1,575.8 240.2,597.6 243.4,591.1 215.2,573.1 233.4,523.2 272.3,524.6 215.0,564.5 239.5,571.9 209.0,576.4 225.6,561.3 214.3,583.4 264.1,554.5 203.1,539.2 236.1,527.2 229.7,541.4 296.9,565.6 210.5,567.0 274.9,589.6 253.4,595.4 273.2,512.4 280.8,521.6 241.8,550.8 241.5,524.2 283.9,537.1 246.4,578.5 264.4,572.6 227.9,544.6 251.5,523.8 278.2,528.3 270.3,543.4 268.2,525.5 250.5,507.7 295.0,553.9 214.6,537.8 240.3,545.8 266.7,593.5 229.5,525.7 262.5,540.3 300.1,572.6 241.6,531.5 206.8,572.7 252.5,600.7 284.1,527.7 252.3,511.2 285.3,552.6 219.1,574.1 301.9,544.6 261.6,587.2 246.9,506.1 244.2,510.9 302.4,561.7 221.1,542.4 281.2,570.3 229.8,519.5 245.3,553.2 292.6,549.4 268.4,589.5 285.9,557.0 303.2,552.3 251.5,570.7 221.6,583.1 235.5,516.7 286.9,533.0 245.1,567.0 274.0,534.3 271.1,528.2 266.1,567.4 213.2,576.2 299.6,568.6 276.1,521.7 208.5,537.9 248.1,522.3 251.2,590.4 219.6,538.4 266.9,545.0 216.2,543.2 221.1,561.6 265.7,535.2 235.7,546.9 244.2,600.3 283.9,567.4 261.3,594.0 218.3,578.0 253.3,575.6 216.2,588.6 217.7,581.7 255.8,571.9 222.9,575.0 223.0,567.6 204.4,535.4 278.5,590.9 269.9,510.4 248.3,510.8 253.4,532.8 274.7,515.8 237.0,543.2 207.1,564.7 287.5,529.1 251.4,565.7 255.8,560.7 243.5,520.7 272.4,592.3 290.6,562.2 260.1,573.4 267.1,538.9 278.3,532.7 243.9,596.3 254.8,527.7 212.9,587.1 287.9,549.4 238.4,513.9 280.6,535.5 273.5,545.2 295.8,558.8 248.9,601.2 292.5,574.0 205.3,561.6 280.9,574.9 246.0,529.9 254.1,587.0 281.6,560.3 205.8,543.1 276.5,537.4 274.7,530.4 272.0,584.9 215.8,568.9 224.0,545.3 226.5,571.8 239.7,553.8 301.2,565.3 221.9,578.5 279.0,540.3 239.1,593.3 240.9,568.3 231.9,515.5 298.8,562.4 213.1,559.8 205.3,576.2 213.0,545.5 247.7,569.5 298.7,551.8 224.2,549.0 257.1,594.1 248.0,587.1 284.1,589.7 214.5,579.6 258.1,563.7 306.4,550.7 268.6,562.4 207.2,569.1 260.3,553.2 231.9,566.6 203.6,571.1 245.6,514.7 271.7,540.0 275.8,525.7 261.6,557.3 227.4,582.7 238.1,575.8 249.8,593.8 232.5,527.9 284.7,571.2 268.9,533.3"/>
</g>
</g>
<g clip-path="url(#c2)">
<path d="M362.6 500.4V608.6H476.3" fill="none" stroke="#333333" stroke-width="0.85"/>
<path d="M386.70 608.6v3.1M418.70 608.6v3.1M450.70 608.6v3.1M362.6 581.20h-3.1M362.6 551.50h-3.1M362.6 521.80h-3.1" stroke="#333333" stroke-width="0.8"/>
<text x="386.7" y="619.8" font-size="7.59" text-anchor="middle" font-family="Liberation Sans" fill="#1e1e1e" textLength="14.6" lengthAdjust="spacingAndGlyphs">−50</text>
<text x="418.7" y="619.8" font-size="7.59" text-anchor="middle" font-family="Liberation Sans" fill="#1e1e1e" textLength="4.4" lengthAdjust="spacingAndGlyphs">0</text>
<text x="450.7" y="619.8" font-size="7.59" text-anchor="middle" font-family="Liberation Sans" fill="#1e1e1e" textLength="8.8" lengthAdjust="spacingAndGlyphs">50</text>
<text x="356.4" y="583.7" font-size="7.59" text-anchor="end" font-family="Liberation Sans" fill="#1e1e1e" textLength="14.6" lengthAdjust="spacingAndGlyphs">−50</text>
<text x="356.4" y="554.0" font-size="7.59" text-anchor="end" font-family="Liberation Sans" fill="#1e1e1e" textLength="4.4" lengthAdjust="spacingAndGlyphs">0</text>
<text x="356.4" y="524.3" font-size="7.59" text-anchor="end" font-family="Liberation Sans" fill="#1e1e1e" textLength="8.8" lengthAdjust="spacingAndGlyphs">50</text>
<text x="419.5" y="496.5" font-size="9.33" text-anchor="middle" font-family="Liberation Sans" fill="#1e1e1e" textLength="56.9" lengthAdjust="spacingAndGlyphs">t-SNE Result</text>
<text x="419.5" y="630.8" font-size="7.85" text-anchor="middle" font-family="Liberation Sans" fill="#1e1e1e" textLength="5.2" lengthAdjust="spacingAndGlyphs">X</text>
<text transform="translate(336.0 554.5) rotate(-90)" font-size="7.85" text-anchor="middle" font-family="Liberation Sans" fill="#1e1e1e" textLength="4.6" lengthAdjust="spacingAndGlyphs">Y</text>
<g filter="url(#bl)">
<path d="M369.2 534.8L378.4 528.7L384.5 511.8L393.7 508.7L402.9 511.1L407.5 513.4L410.6 528.7L409.1 531.8L396.8 531.0L384.5 531.8L375.3 535.6Z" fill="#fdcfae" fill-opacity="0.70"/>
<path d="M417.2 506.9L425.6 506.9L434.7 511.5L449.9 514.5L451.4 520.6L440.8 523.6L436.2 532.7L428.6 534.2L421.0 531.9L418.0 523.6L416.5 514.5Z" fill="#fdcfae" fill-opacity="0.70"/>
<path d="M374.2 551.3L380.2 543.7L387.8 539.2L398.4 537.7L406.0 542.2L412.0 549.8L409.0 557.4L399.9 558.9L389.3 557.4L375.7 555.8Z" fill="#fdcfae" fill-opacity="0.70"/>
<path d="M416.8 543.3L428.9 543.3L436.4 547.9L442.4 555.4L448.5 562.9L447.0 567.5L437.9 567.5L430.4 570.5L422.8 566.0L416.8 558.4Z" fill="#fdcfae" fill-opacity="0.70"/>
<path d="M448.7 539.1L451.7 533.1L465.3 531.5L469.8 540.6L468.3 551.2L465.3 563.2L460.8 567.8L457.0 558.7L447.2 549.7Z" fill="#fdcfae" fill-opacity="0.70"/>
<path d="M372.3 566.4L381.5 566.4L393.6 567.9L404.3 567.9L411.9 569.4L411.9 574.0L402.7 577.0L398.2 586.1L389.1 587.6L379.9 584.6L376.9 574.0L372.3 570.9Z" fill="#fdcfae" fill-opacity="0.70"/>
<path d="M411.7 581.4L420.8 575.3L430.0 576.9L437.6 581.4L446.7 578.4L451.3 579.9L443.7 589.0L433.0 595.1L423.9 599.7L414.7 601.2L411.7 592.1Z" fill="#fdcfae" fill-opacity="0.70"/>
<polyline class="mq" points="393.7,523.7 385.9,516.9 385.3,511.8 403.3,513.2 387.5,521.6 398.6,523.2 401.5,510.5 388.2,511.5 393.0,509.8 397.7,510.4 402.7,519.9 401.6,517.0 391.0,522.4 389.4,508.6 384.7,519.8 395.5,508.1 384.1,514.5 399.9,520.4 396.3,525.0 384.8,528.4 380.6,522.7 377.2,524.3 386.6,524.7 381.6,529.0 377.9,528.0 384.2,522.5 440.8,523.7 422.9,523.7 422.8,530.3 432.5,516.1 431.4,535.2 427.8,532.7 425.9,517.8 439.5,520.8 438.9,532.1 434.9,518.8 438.6,528.2 421.5,527.0 434.9,534.0 424.2,533.2 430.5,518.5 422.2,520.3 437.8,518.3 441.4,526.5 428.5,516.3 425.0,520.9 436.0,531.2 389.9,541.9 390.4,552.4 407.6,550.9 408.4,547.7 396.7,557.6 390.1,547.5 394.0,554.6 404.8,552.9 399.3,555.2 406.7,542.5 398.1,537.4 388.0,550.2 401.8,539.3 394.2,537.7 403.3,556.4 393.1,540.5 387.9,544.7 404.8,539.5 406.0,546.1 390.9,544.6 396.4,539.8 416.6,562.1 419.9,549.0 428.0,561.5 429.0,552.8 429.2,556.2 415.1,557.3 415.6,551.0 424.9,565.3 424.7,549.6 428.0,549.9 420.8,565.9 416.2,554.7 422.5,547.0 430.1,559.3 417.7,564.9 452.6,549.6 461.9,537.3 450.7,538.8 448.0,548.3 458.4,552.0 463.5,540.2 457.5,535.5 454.2,536.1 447.5,541.5 448.3,544.4 465.7,545.6 461.1,550.5 455.3,552.1 466.2,541.9 464.5,548.6 451.3,535.9 449.7,550.6 459.6,567.5 457.2,564.8 463.0,567.6 460.4,554.4 463.5,556.2 456.3,560.8 456.4,557.6 465.3,561.3 465.0,565.2 465.6,558.3 404.8,584.4 388.1,579.8 391.3,588.5 390.5,573.4 388.7,576.2 403.2,579.9 387.7,585.4 400.8,574.2 395.4,587.5 403.9,576.0 396.5,572.7 401.6,584.6 400.3,587.2 385.6,582.5 393.3,572.5 405.9,581.5 391.0,585.6 397.9,589.1 434.9,595.1 440.2,581.3 443.0,587.7 421.2,580.0 436.8,592.8 418.0,586.0 430.7,593.0 443.3,583.5 427.8,593.9 436.2,575.4 430.6,574.7 420.5,587.5 423.7,577.2 441.0,590.0 422.2,591.0 441.4,578.7 428.9,577.5 425.0,592.7 433.2,576.9 438.7,577.2 420.2,583.2 426.1,575.4 439.7,593.1 436.0,578.3 418.2,581.1 419.0,590.1 440.9,585.7 431.7,595.7 433.6,592.5 447.4,577.4 446.2,584.5 443.5,578.1 450.4,580.8 442.8,583.8 441.4,580.2 449.3,583.5"/>
<polyline class="mx" points="394.7,519.5 390.1,510.5 375.3,532.2 382.1,517.9 386.2,524.9 399.2,514.9 407.0,513.1 403.8,518.5 396.4,524.2 391.1,523.3 390.0,528.1 402.3,511.1 397.0,509.3 391.3,515.8 407.7,519.0 384.4,512.4 406.5,526.6 394.1,531.0 380.2,528.3 409.2,523.3 403.2,528.9 385.8,519.1 398.7,528.3 395.2,515.2 371.6,535.1 385.9,531.5 406.9,530.8 400.2,522.1 410.4,528.9 382.2,524.5 379.2,532.4 404.2,522.6 387.4,514.9 393.3,508.2 389.9,519.5 393.8,527.1 429.3,516.8 422.8,516.7 428.1,521.0 427.6,533.0 446.2,521.4 419.6,508.7 450.1,515.7 420.6,520.4 435.7,521.2 436.0,514.0 440.8,518.7 429.3,528.6 439.7,522.6 424.1,508.6 425.7,513.6 432.7,525.0 417.7,513.6 452.0,519.2 434.0,530.1 429.5,510.9 421.9,512.1 423.1,529.2 417.4,517.5 424.8,523.1 444.3,513.5 419.2,527.9 417.1,522.7 437.5,526.1 439.9,513.5 423.6,533.7 420.0,532.0 433.2,517.4 446.3,517.1 433.5,511.0 436.1,533.5 431.2,534.6 416.1,506.4 438.1,530.1 421.1,524.4 395.9,538.1 408.1,543.3 374.6,549.2 377.8,553.9 388.8,539.9 389.6,555.3 410.8,555.4 411.1,549.6 399.8,552.0 383.8,553.0 393.2,543.4 402.3,543.8 404.6,552.8 381.1,543.2 395.5,557.9 383.8,547.2 392.9,548.4 398.4,546.1 395.8,553.7 387.9,550.7 399.6,540.0 386.2,544.0 402.7,557.1 407.4,547.3 407.1,557.0 379.7,548.2 373.7,555.2 403.7,539.9 385.8,556.9 403.1,548.6 381.5,556.1 384.5,540.3 389.8,545.6 396.6,549.8 399.3,559.1 431.0,563.4 435.8,556.8 418.6,558.7 420.8,562.8 424.3,543.0 425.1,547.4 433.6,553.0 437.4,548.5 416.1,549.4 443.9,563.8 426.9,564.5 439.2,563.1 419.4,543.2 434.9,566.8 430.2,547.7 441.0,557.4 420.3,552.7 428.4,552.8 431.5,570.0 424.3,556.1 448.7,565.7 444.8,558.7 416.0,545.1 423.4,566.4 430.8,557.2 426.0,560.4 421.0,548.6 429.0,543.1 416.3,553.7 441.0,566.7 438.5,552.3 445.2,567.9 427.5,569.6 424.6,552.1 434.1,546.2 435.4,562.0 447.3,561.7 463.1,544.4 456.4,558.4 463.1,565.8 459.7,534.3 455.8,551.9 451.7,550.6 458.9,546.2 461.0,559.4 466.1,557.6 467.3,543.2 468.2,536.0 454.2,533.2 454.5,539.2 464.6,551.8 450.7,546.3 467.9,547.6 450.0,539.1 465.9,562.1 464.1,534.5 459.5,541.6 446.5,549.5 458.9,555.4 454.8,546.7 464.4,538.8 449.5,535.2 470.0,540.3 452.8,554.9 460.8,550.6 447.3,543.3 465.8,530.9 459.2,563.6 452.8,542.9 468.2,553.8 461.4,530.7 394.6,582.8 371.7,568.7 391.1,585.3 405.6,571.9 398.8,585.9 377.1,570.7 394.2,571.0 401.1,581.2 383.4,582.0 383.4,575.6 378.5,574.4 389.7,577.3 388.3,567.9 381.4,566.8 399.6,571.7 375.8,566.6 389.3,571.8 379.3,583.9 394.2,577.9 403.6,575.4 412.8,569.4 378.6,579.0 387.2,583.7 398.8,575.6 387.3,587.9 409.9,572.9 404.9,568.0 381.3,570.9 383.2,586.6 397.1,568.2 385.4,571.1 394.6,587.4 390.9,581.3 409.0,568.5 386.7,579.8 417.3,592.4 432.8,579.7 418.7,601.1 435.1,583.3 427.7,581.2 435.1,593.1 421.1,579.3 448.8,582.3 414.3,588.6 426.5,587.9 444.8,581.3 415.7,596.7 446.9,586.3 423.9,599.9 423.1,589.7 428.0,594.2 411.4,584.9 417.8,586.2 431.8,590.2 424.8,576.0 441.4,583.4 411.4,592.9 439.1,590.1 413.4,579.2 442.7,587.4 421.8,594.3 419.9,575.6 422.9,584.2 435.6,587.6 413.5,601.8 416.5,582.0 431.8,586.3 449.1,578.3 432.0,595.6 429.0,576.7 427.8,598.2 410.3,589.0 411.7,596.9"/>
<polyline class="my" points="371.5,532.7 373.2,532.4 377.4,530.6 372.1,534.5 382.6,530.3 378.8,531.0 368.6,534.2 384.3,529.5 368.9,533.6 374.7,530.8 387.2,528.8 379.0,532.1 369.3,535.7 377.5,531.1"/>
<polyline class="mx" points="384.2,530.6 376.7,530.8 383.7,528.0 381.5,529.7 385.0,530.1 376.3,532.3"/>
</g>
</g>
<g clip-path="url(#c3)">
<path d="M526.5 500.4V608.6H639.5" fill="none" stroke="#333333" stroke-width="0.85"/>
<path d="M548.50 608.6v3.1M580.90 608.6v3.1M613.30 608.6v3.1M526.5 606.30h-3.1M526.5 590.05h-3.1M526.5 573.80h-3.1M526.5 557.55h-3.1M526.5 541.30h-3.1M526.5 525.05h-3.1M526.5 508.80h-3.1" stroke="#333333" stroke-width="0.8"/>
<text x="548.5" y="619.8" font-size="7.59" text-anchor="middle" font-family="Liberation Sans" fill="#1e1e1e" textLength="14.6" lengthAdjust="spacingAndGlyphs">−50</text>
<text x="580.9" y="619.8" font-size="7.59" text-anchor="middle" font-family="Liberation Sans" fill="#1e1e1e" textLength="4.4" lengthAdjust="spacingAndGlyphs">0</text>
<text x="613.3" y="619.8" font-size="7.59" text-anchor="middle" font-family="Liberation Sans" fill="#1e1e1e" textLength="8.8" lengthAdjust="spacingAndGlyphs">50</text>
<text x="520.4" y="608.8" font-size="7.59" text-anchor="end" font-family="Liberation Sans" fill="#1e1e1e" textLength="14.6" lengthAdjust="spacingAndGlyphs">−75</text>
<text x="520.4" y="592.5" font-size="7.59" text-anchor="end" font-family="Liberation Sans" fill="#1e1e1e" textLength="14.6" lengthAdjust="spacingAndGlyphs">−50</text>
<text x="520.4" y="576.3" font-size="7.59" text-anchor="end" font-family="Liberation Sans" fill="#1e1e1e" textLength="14.6" lengthAdjust="spacingAndGlyphs">−25</text>
<text x="520.4" y="560.0" font-size="7.59" text-anchor="end" font-family="Liberation Sans" fill="#1e1e1e" textLength="4.4" lengthAdjust="spacingAndGlyphs">0</text>
<text x="520.4" y="543.8" font-size="7.59" text-anchor="end" font-family="Liberation Sans" fill="#1e1e1e" textLength="8.8" lengthAdjust="spacingAndGlyphs">25</text>
<text x="520.4" y="527.5" font-size="7.59" text-anchor="end" font-family="Liberation Sans" fill="#1e1e1e" textLength="8.8" lengthAdjust="spacingAndGlyphs">50</text>
<text x="520.4" y="511.3" font-size="7.59" text-anchor="end" font-family="Liberation Sans" fill="#1e1e1e" textLength="8.8" lengthAdjust="spacingAndGlyphs">75</text>
<text x="583.0" y="496.5" font-size="9.33" text-anchor="middle" font-family="Liberation Sans" fill="#1e1e1e" textLength="56.9" lengthAdjust="spacingAndGlyphs">t-SNE Result</text>
<text x="583.0" y="630.8" font-size="7.85" text-anchor="middle" font-family="Liberation Sans" fill="#1e1e1e" textLength="5.2" lengthAdjust="spacingAndGlyphs">X</text>
<text transform="translate(499.9 554.5) rotate(-90)" font-size="7.85" text-anchor="middle" font-family="Liberation Sans" fill="#1e1e1e" textLength="4.6" lengthAdjust="spacingAndGlyphs">Y</text>
<g filter="url(#bl)">
<polyline class="mp" points="572.2,533.7 571.4,522.8 571.7,524.9 546.5,526.6 545.6,536.2 557.7,515.9 545.5,526.5 540.0,533.3 572.0,535.2 544.7,535.9 569.5,518.7 572.0,528.0 549.4,523.6 581.0,520.1 588.6,537.5 611.6,525.7 606.8,531.1 580.9,524.2 590.7,536.9 580.7,519.9 592.3,513.6 591.1,516.8 591.1,509.2 582.5,506.9 593.0,535.4 588.4,536.4 536.1,550.0 532.8,561.1 549.7,567.5 556.0,564.4 532.6,553.4 546.9,550.8 552.6,567.6 534.2,567.3 542.8,580.9 550.3,569.9 532.3,565.8 531.7,555.1 533.1,568.7 590.4,545.8 570.1,562.8 587.9,567.3 592.8,562.2 569.4,562.2 576.7,544.1 583.8,567.7 571.8,564.2 577.2,544.5 584.2,568.9 580.3,568.2 580.0,570.1 616.3,543.2 634.3,560.3 622.9,566.9 632.9,563.5 619.5,565.1 626.0,552.8 603.4,553.8 621.3,566.1 623.6,549.2 612.0,542.1 634.0,561.4 632.2,564.8 583.4,585.9 551.9,598.7 559.0,601.5 570.9,577.3 576.4,579.9 581.7,594.3 572.6,602.1 558.3,583.2 555.7,593.5 553.3,598.3 577.3,598.9 556.3,593.9 582.8,586.2 623.1,586.2 589.3,577.8 596.0,575.4 614.8,593.3 608.4,575.8 607.4,597.3 618.1,580.1 610.6,577.1 593.8,576.7 590.6,576.8 593.4,597.7 612.6,577.7 592.3,576.5 622.4,589.1"/>
<path d="M539.0 527.5L547.6 524.1L549.3 517.2L557.9 514.6L568.3 514.6L571.7 520.6L573.4 530.9L571.7 537.8L564.8 542.1L556.2 541.3L551.1 536.1L545.9 537.8L539.0 536.1L537.3 530.9Z" fill="#fdcfae" fill-opacity="1.00"/>
<polyline class="my" points="562.1,539.5 570.5,525.4 541.5,528.4 546.6,536.3 553.4,524.6 567.8,527.3 542.4,535.5 572.3,529.4 568.7,517.4 547.5,531.9 560.9,529.0 565.6,536.6 560.0,523.7 541.2,532.0 563.4,515.6 566.1,520.4 570.6,532.1 556.2,523.0 554.9,536.2 564.0,533.1 550.6,529.4 568.0,522.8 561.2,535.7 565.5,530.1 551.7,522.2 563.7,523.2 556.5,519.5 544.9,527.0 555.9,529.4 552.4,533.4 559.1,539.3 550.3,519.5 568.7,535.1 562.7,518.9 547.8,528.1 544.5,533.2 556.5,532.8 559.7,520.0 549.7,535.6 564.9,526.1 555.9,539.4 549.3,524.3 566.1,539.6 553.2,519.5 559.9,515.9 557.5,526.1 560.6,532.8 554.3,516.6 570.5,520.8 558.0,535.7 569.8,537.9 539.7,534.5 545.1,530.0 561.9,526.1 553.5,527.6 567.6,532.3 538.7,530.0 566.4,515.5 558.6,530.6"/>
<path d="M582.0 506.9L588.9 503.4L594.0 510.3L592.3 515.5L602.6 513.8L611.2 520.6L612.1 527.5L606.1 534.4L595.8 536.1L588.9 537.8L582.0 532.7L578.6 522.3L583.7 515.5Z" fill="#fdcfae" fill-opacity="1.00"/>
<polyline class="my" points="606.0,519.1 589.7,530.2 597.6,532.9 586.0,531.1 596.0,522.1 595.4,528.8 583.4,521.3 589.3,511.1 591.2,521.6 589.9,526.2 585.1,510.1 601.2,530.0 580.8,523.9 604.0,530.8 606.3,527.3 588.6,519.2 589.2,534.4 586.5,524.3 587.1,515.2 601.2,520.5 589.9,514.0 585.4,506.2 602.3,523.7 592.5,534.8 583.5,526.3 605.4,522.9 609.6,525.8 582.6,530.1 602.1,514.8 593.2,519.3 598.9,527.4 598.9,515.2 607.7,530.3 594.9,525.9 596.2,517.4 610.5,521.6 586.2,527.4 601.8,533.2 590.5,508.0 593.3,530.9 606.2,533.0 595.4,535.0 603.0,526.9 598.3,519.7 604.5,516.5 598.7,523.5 584.6,517.9 588.1,505.0 587.6,508.3 591.7,516.6 592.4,511.2 586.6,521.3 584.7,513.0 592.4,527.8 586.3,534.1 600.7,517.7 592.3,524.5"/>
<path d="M530.4 556.7L533.9 549.8L542.5 547.3L552.8 551.6L559.7 558.4L557.9 565.3L551.1 568.8L547.6 579.1L540.8 582.5L533.9 575.6L532.2 565.3Z" fill="#fdcfae" fill-opacity="1.00"/>
<polyline class="my" points="545.5,567.5 539.6,560.5 543.0,548.9 555.0,558.6 557.4,563.9 535.3,564.4 539.6,564.6 546.4,578.6 540.5,573.1 535.7,571.1 552.0,559.6 540.8,557.4 538.1,552.4 543.5,576.7 536.3,558.1 542.6,565.3 541.7,552.0 551.2,553.5 548.5,567.3 545.2,551.0 548.1,559.1 543.2,560.7 544.8,557.3 536.9,568.4 535.4,561.5 542.4,570.5 540.5,576.5 535.7,574.7 548.2,554.2 553.8,565.0 548.7,562.5 534.7,552.9 554.7,561.5 552.4,556.5 540.3,579.7 532.6,558.5 545.0,574.1 537.7,578.0 547.8,571.0 558.6,559.2 547.8,575.5 548.2,550.8 533.3,555.5 533.5,567.0 551.6,567.5 532.4,562.1 543.2,554.5 539.1,549.5 538.0,555.4 545.6,563.7 543.3,579.8 551.7,562.5 540.0,568.5 536.0,550.2 554.7,554.7"/>
<path d="M563.1 551.6L573.4 544.7L582.0 539.5L590.6 544.7L592.3 556.7L594.0 563.6L588.9 568.8L578.6 570.5L570.0 565.3L564.8 558.4Z" fill="#fdcfae" fill-opacity="1.00"/>
<polyline class="my" points="580.4,546.9 581.5,559.9 568.6,561.5 590.5,559.5 587.7,567.2 568.8,551.8 573.5,550.0 576.6,558.3 569.9,548.3 578.7,567.7 584.2,546.0 578.1,550.5 570.7,556.9 583.9,563.3 575.3,553.2 589.8,546.0 572.9,563.2 579.3,553.7 582.8,551.3 575.1,545.3 587.4,564.2 575.8,564.4 590.6,556.6 580.1,563.3 589.0,554.1 586.3,552.9 583.3,541.8 585.9,557.6 580.0,542.5 581.4,566.1 582.6,556.0 579.2,556.9 592.0,562.2 590.3,550.1 586.4,544.1 572.5,546.5 590.4,565.1 565.9,558.5 565.6,552.9 568.3,555.0 587.4,547.7 572.0,560.0 586.7,561.4 582.9,568.9 578.2,560.8 571.9,554.0 584.8,566.5 575.4,567.5 577.4,547.4 574.0,556.7 584.9,549.2 574.9,561.1 565.0,555.7 570.1,564.1"/>
<path d="M600.9 549.8L607.8 541.3L623.3 543.0L626.7 551.6L635.3 556.7L633.6 565.3L623.3 567.0L609.5 565.3L602.6 560.2Z" fill="#fdcfae" fill-opacity="1.00"/>
<polyline class="my" points="624.7,552.5 628.7,557.5 605.7,546.7 609.0,545.8 621.2,562.5 613.8,547.3 614.4,561.2 620.5,557.6 602.5,552.6 633.8,557.4 623.2,547.2 615.7,543.9 619.3,544.5 617.5,564.1 607.8,561.2 604.8,556.2 620.2,554.2 613.3,552.3 609.3,555.0 610.8,548.5 628.7,560.8 605.5,550.4 625.4,564.3 625.6,556.4 612.4,558.9 632.7,564.0 608.8,542.7 609.9,563.3 616.5,554.3 617.1,548.7 612.5,543.8 628.0,553.4 633.4,561.0 614.1,556.4 621.3,551.2 617.4,558.8 613.1,563.9 625.6,559.9 628.5,564.1 604.9,559.8 609.2,551.9 618.4,551.4 620.2,548.5 630.7,555.0 602.4,549.7 621.2,565.7 607.9,558.0 622.6,544.2 606.7,553.7 631.2,559.1 622.5,559.8 607.9,548.7 625.0,549.6 622.8,555.4"/>
<path d="M551.1 598.0L557.9 589.4L557.9 579.1L564.8 573.9L575.1 577.3L583.7 584.2L582.0 596.3L573.4 603.1L563.1 603.1L554.5 603.1Z" fill="#fdcfae" fill-opacity="1.00"/>
<polyline class="my" points="572.7,590.6 560.5,595.1 571.2,598.0 564.8,598.7 577.1,595.6 571.3,580.8 568.6,588.1 562.5,591.2 566.4,593.0 559.1,580.5 576.0,585.4 573.5,600.6 565.0,579.4 580.1,595.1 566.9,583.4 559.2,599.2 580.4,586.5 573.7,596.1 568.5,599.7 577.1,582.6 574.7,579.2 566.9,577.2 573.9,582.8 553.4,599.1 576.3,588.9 560.6,588.3 576.7,598.5 570.1,577.2 569.6,594.0 570.1,602.2 564.3,586.1 560.4,602.1 564.0,583.2 556.3,597.1 566.1,589.9 571.9,585.0 562.5,576.9 557.1,593.2 560.8,584.2 581.8,591.6 563.7,595.9 565.3,601.7 578.8,590.6 568.1,580.5 557.2,601.6 575.3,593.0 558.4,590.6 562.0,580.8 580.2,583.0 567.3,596.5 573.7,587.5 569.5,590.9 582.7,584.8 564.9,575.0"/>
<path d="M588.9 577.3L599.2 572.2L609.5 575.6L619.8 579.1L625.0 585.9L621.5 592.8L609.5 596.3L606.1 601.4L595.8 601.4L590.6 596.3L588.9 585.9Z" fill="#fdcfae" fill-opacity="1.00"/>
<polyline class="my" points="597.2,594.0 609.5,588.5 619.3,588.2 595.4,578.0 620.7,584.4 597.8,587.9 590.2,585.8 615.4,592.9 603.6,594.1 597.3,584.6 608.9,579.3 600.1,578.7 600.6,585.0 593.1,595.0 605.6,599.5 597.5,574.3 590.6,580.8 601.9,598.7 594.3,590.1 603.9,576.7 602.8,590.8 609.8,592.6 618.4,580.2 606.1,589.7 610.7,584.1 600.8,573.8 613.0,589.2 618.0,585.4 597.0,597.4 612.2,579.1 612.0,594.5 603.6,583.1 613.1,582.1 594.2,585.8 600.4,593.9 615.7,578.8 604.0,587.1 594.6,581.4 606.9,596.7 605.7,580.3 615.0,585.0 618.6,592.7 600.6,588.7 616.0,589.1 622.9,587.8 594.9,599.3 607.1,584.6 598.2,581.3 592.2,576.6 591.1,588.6 592.1,583.4 607.0,593.5 607.0,576.1 591.0,592.9 597.9,600.5 598.7,591.3 601.3,581.4 621.3,590.4 616.8,582.7 610.4,576.8"/>
</g>
</g>
<text x="86.7" y="310.8" font-size="12.60" text-anchor="middle" font-family="Liberation Serif" fill="#1e1e1e" textLength="52.5" lengthAdjust="spacingAndGlyphs">TimeGAN</text>
<text x="247.2" y="310.8" font-size="12.60" text-anchor="middle" font-family="Liberation Serif" fill="#1e1e1e" textLength="69.2" lengthAdjust="spacingAndGlyphs">C-RNN-GAN</text>
<text x="410.0" y="310.8" font-size="12.60" text-anchor="middle" font-family="Liberation Serif" fill="#1e1e1e" textLength="48.1" lengthAdjust="spacingAndGlyphs">CoTGAN</text>
<text x="575.0" y="310.8" font-size="12.60" text-anchor="middle" font-family="Liberation Serif" fill="#1e1e1e" textLength="42.0" lengthAdjust="spacingAndGlyphs">EBGAN</text>
<text x="93.1" y="648.6" font-size="12.60" text-anchor="middle" font-family="Liberation Serif" fill="#1e1e1e" textLength="55.4" lengthAdjust="spacingAndGlyphs">WaveGAN</text>
<text x="259.0" y="648.6" font-size="12.60" text-anchor="middle" font-family="Liberation Serif" fill="#1e1e1e" textLength="56.7" lengthAdjust="spacingAndGlyphs">QuantGAN</text>
<text x="419.8" y="648.6" font-size="12.60" text-anchor="middle" font-family="Liberation Serif" fill="#1e1e1e" textLength="47.1" lengthAdjust="spacingAndGlyphs">GT-GAN</text>
<text x="589.5" y="648.6" font-size="12.60" text-anchor="middle" font-family="Liberation Serif" fill="#1e1e1e" textLength="94.7" lengthAdjust="spacingAndGlyphs">TransFusion (ours)</text>
</svg></body></html>
